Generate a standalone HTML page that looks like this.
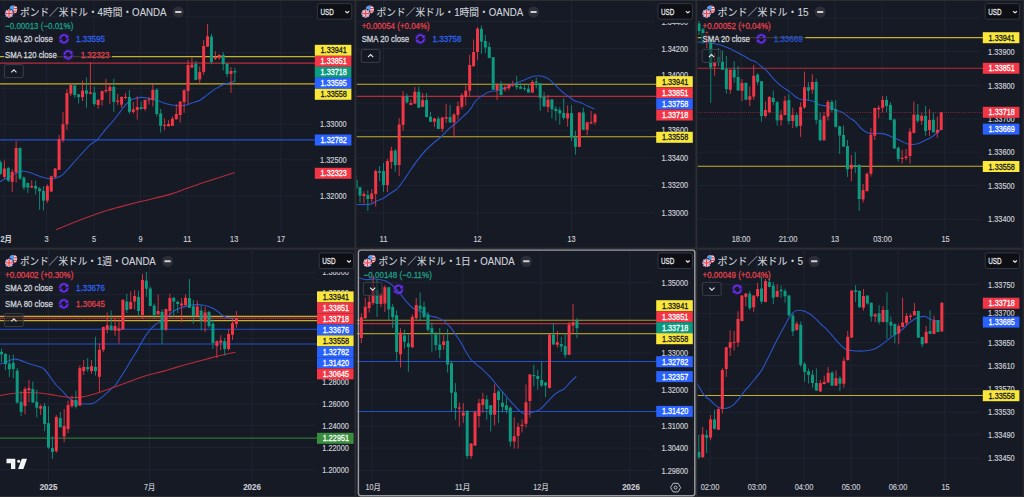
<!DOCTYPE html>
<html lang="ja"><head><meta charset="utf-8"><title>GBPUSD multi-chart</title>
<style>html,body{margin:0;padding:0;background:#161a25;overflow:hidden}svg{display:block}text{white-space:pre}</style></head>
<body>
<svg width="1024" height="497" viewBox="0 0 1024 497" font-family='"Liberation Sans","Noto Sans CJK JP",sans-serif'>
<rect x="0.00" y="0.00" width="1024.00" height="497.00" fill="#161a25" />
<g><clipPath id="cp1"><rect x="0" y="1" width="354.4" height="246.6"/></clipPath><g clip-path="url(#cp1)">
<line x1="4.20" y1="1.00" x2="4.20" y2="232.60" stroke="#212635" stroke-width="0.8" />
<line x1="46.60" y1="1.00" x2="46.60" y2="232.60" stroke="#212635" stroke-width="0.8" />
<line x1="94.00" y1="1.00" x2="94.00" y2="232.60" stroke="#212635" stroke-width="0.8" />
<line x1="140.60" y1="1.00" x2="140.60" y2="232.60" stroke="#212635" stroke-width="0.8" />
<line x1="187.40" y1="1.00" x2="187.40" y2="232.60" stroke="#212635" stroke-width="0.8" />
<line x1="234.20" y1="1.00" x2="234.20" y2="232.60" stroke="#212635" stroke-width="0.8" />
<line x1="281.00" y1="1.00" x2="281.00" y2="232.60" stroke="#212635" stroke-width="0.8" />
<line x1="0.00" y1="16.80" x2="312.80" y2="16.80" stroke="#212635" stroke-width="0.8" />
<line x1="0.00" y1="52.60" x2="312.80" y2="52.60" stroke="#212635" stroke-width="0.8" />
<line x1="0.00" y1="88.40" x2="312.80" y2="88.40" stroke="#212635" stroke-width="0.8" />
<line x1="0.00" y1="124.20" x2="312.80" y2="124.20" stroke="#212635" stroke-width="0.8" />
<line x1="0.00" y1="159.80" x2="312.80" y2="159.80" stroke="#212635" stroke-width="0.8" />
<line x1="0.00" y1="196.00" x2="312.80" y2="196.00" stroke="#212635" stroke-width="0.8" />
<line x1="0.00" y1="56.60" x2="315.80" y2="56.60" stroke="#c6b12d" stroke-width="1.1" />
<line x1="0.00" y1="63.10" x2="315.80" y2="63.10" stroke="#b52c3a" stroke-width="1.1" />
<line x1="0.00" y1="83.90" x2="315.80" y2="83.90" stroke="#c6b12d" stroke-width="1.1" />
<line x1="0.00" y1="139.90" x2="315.80" y2="139.90" stroke="#2450cc" stroke-width="1.1" />
<path d="M0.0 181.9C0.6 181.5 2.5 180.1 3.8 179.4C5.0 178.7 5.8 178.7 7.5 177.9C9.2 177.1 11.9 175.6 13.8 174.6C15.6 173.6 17.1 172.5 18.8 171.9C20.4 171.3 22.1 171.1 23.8 171.2C25.4 171.2 26.5 171.5 28.8 172.2C31.0 172.9 34.4 174.4 37.5 175.5C40.6 176.6 45.0 177.9 47.5 178.5C50.0 179.1 51.0 178.9 52.5 178.8C54.0 178.7 54.6 178.7 56.2 178.0C57.9 177.3 60.2 176.8 62.5 174.9C64.8 173.0 67.1 170.0 70.0 166.8C72.9 163.5 76.7 159.1 80.0 155.5C83.3 151.9 87.5 147.2 90.0 144.9C92.5 142.6 93.8 142.4 95.0 141.5C96.2 140.6 95.6 141.8 97.5 139.6C99.4 137.4 103.2 132.2 106.2 128.6C109.3 125.0 113.3 120.8 115.6 118.0C117.9 115.2 118.2 114.4 120.0 112.1C121.8 109.8 124.2 106.1 126.2 104.0C128.3 101.9 130.0 100.4 132.5 99.3C135.0 98.2 138.5 97.6 141.2 97.4C144.0 97.2 146.0 97.9 148.8 98.4C151.5 98.9 154.4 99.6 157.5 100.5C160.6 101.4 164.4 103.2 167.5 104.0C170.6 104.8 173.3 105.3 176.2 105.5C179.2 105.7 182.3 105.7 185.0 105.2C187.7 104.8 190.0 103.6 192.5 102.8C195.0 101.9 197.5 101.6 200.0 100.2C202.5 98.9 204.8 96.6 207.5 94.6C210.2 92.6 213.5 90.1 216.2 88.4C219.0 86.7 221.5 85.5 223.8 84.6C226.0 83.7 228.1 83.4 230.0 82.8C231.9 82.1 234.1 81.2 234.9 80.9" fill="none" stroke="#2a55c9" stroke-width="1.1" />
<path d="M56.0 229.8C59.2 228.4 68.5 224.5 75.0 221.9C81.5 219.3 88.8 216.6 95.0 214.4C101.2 212.2 108.3 210.2 112.5 208.9C116.7 207.7 115.1 208.2 120.0 206.9C124.9 205.6 133.6 203.3 141.9 201.2C150.2 199.2 162.4 196.6 170.0 194.4C177.6 192.2 181.2 190.3 187.5 188.1C193.8 185.9 199.6 183.8 207.5 181.2C215.4 178.7 230.2 174.0 234.8 172.5" fill="none" stroke="#b92b3a" stroke-width="1.1" />
<path d="M0.49 160.50V175.00" stroke="#0c9a81" stroke-width="0.85"/>
<rect x="-1.01" y="162.40" width="3.00" height="11.20" fill="#0c9a81" />
<path d="M4.39 160.50V178.75" stroke="#f23645" stroke-width="0.85"/>
<rect x="2.89" y="168.60" width="3.00" height="8.30" fill="#f23645" />
<path d="M8.30 166.75V181.90" stroke="#0c9a81" stroke-width="0.85"/>
<rect x="6.80" y="168.00" width="3.00" height="12.60" fill="#0c9a81" />
<path d="M12.21 169.25V191.90" stroke="#f23645" stroke-width="0.85"/>
<rect x="10.71" y="171.90" width="3.00" height="10.00" fill="#f23645" />
<path d="M16.11 141.10V182.50" stroke="#f23645" stroke-width="0.85"/>
<rect x="14.61" y="148.00" width="3.00" height="24.40" fill="#f23645" />
<path d="M20.02 147.50V180.00" stroke="#0c9a81" stroke-width="0.85"/>
<rect x="18.52" y="148.00" width="3.00" height="30.50" fill="#0c9a81" />
<path d="M23.93 176.25V190.00" stroke="#0c9a81" stroke-width="0.85"/>
<rect x="22.43" y="177.75" width="3.00" height="9.75" fill="#0c9a81" />
<path d="M27.83 182.50V193.10" stroke="#0c9a81" stroke-width="0.85"/>
<rect x="26.33" y="183.10" width="3.00" height="4.40" fill="#0c9a81" />
<path d="M31.74 180.25V188.10" stroke="#f23645" stroke-width="0.85"/>
<rect x="30.24" y="186.00" width="3.00" height="1.50" fill="#f23645" />
<path d="M35.65 180.60V194.40" stroke="#0c9a81" stroke-width="0.85"/>
<rect x="34.15" y="185.90" width="3.00" height="2.85" fill="#0c9a81" />
<path d="M39.56 187.25V209.75" stroke="#0c9a81" stroke-width="0.85"/>
<rect x="38.06" y="188.50" width="3.00" height="2.75" fill="#0c9a81" />
<path d="M43.46 186.25V210.25" stroke="#0c9a81" stroke-width="0.85"/>
<rect x="41.96" y="191.00" width="3.00" height="9.60" fill="#0c9a81" />
<path d="M47.37 184.40V202.75" stroke="#f23645" stroke-width="0.85"/>
<rect x="45.87" y="186.00" width="3.00" height="14.60" fill="#f23645" />
<path d="M51.28 175.75V191.90" stroke="#f23645" stroke-width="0.85"/>
<rect x="49.78" y="176.30" width="3.00" height="15.20" fill="#f23645" />
<path d="M55.18 168.00V178.00" stroke="#f23645" stroke-width="0.85"/>
<rect x="53.68" y="168.60" width="3.00" height="8.40" fill="#f23645" />
<path d="M59.09 134.90V170.00" stroke="#f23645" stroke-width="0.85"/>
<rect x="57.59" y="139.25" width="3.00" height="30.65" fill="#f23645" />
<path d="M63.00 111.90V142.40" stroke="#f23645" stroke-width="0.85"/>
<rect x="61.50" y="124.25" width="3.00" height="15.65" fill="#f23645" />
<path d="M66.91 89.00V129.90" stroke="#f23645" stroke-width="0.85"/>
<rect x="65.41" y="93.10" width="3.00" height="31.15" fill="#f23645" />
<path d="M70.81 84.80V96.00" stroke="#f23645" stroke-width="0.85"/>
<rect x="69.31" y="85.00" width="3.00" height="8.75" fill="#f23645" />
<path d="M74.72 85.00V98.10" stroke="#0c9a81" stroke-width="0.85"/>
<rect x="73.22" y="85.60" width="3.00" height="9.40" fill="#0c9a81" />
<path d="M78.63 94.00V103.50" stroke="#0c9a81" stroke-width="0.85"/>
<rect x="77.13" y="94.40" width="3.00" height="2.70" fill="#0c9a81" />
<path d="M82.53 80.60V101.00" stroke="#f23645" stroke-width="0.85"/>
<rect x="81.03" y="90.60" width="3.00" height="6.50" fill="#f23645" />
<path d="M86.44 77.50V107.90" stroke="#0c9a81" stroke-width="0.85"/>
<rect x="84.94" y="90.40" width="3.00" height="3.35" fill="#0c9a81" />
<path d="M90.35 61.90V94.40" stroke="#f23645" stroke-width="0.85"/>
<rect x="88.85" y="92.25" width="3.00" height="1.50" fill="#f23645" />
<path d="M94.25 86.50V106.00" stroke="#0c9a81" stroke-width="0.85"/>
<rect x="92.75" y="92.50" width="3.00" height="11.50" fill="#0c9a81" />
<path d="M98.16 99.40V108.75" stroke="#f23645" stroke-width="0.85"/>
<rect x="96.66" y="99.75" width="3.00" height="5.25" fill="#f23645" />
<path d="M102.07 90.60V105.60" stroke="#f23645" stroke-width="0.85"/>
<rect x="100.57" y="91.00" width="3.00" height="9.00" fill="#f23645" />
<path d="M105.97 78.75V93.10" stroke="#f23645" stroke-width="0.85"/>
<rect x="104.47" y="90.00" width="3.00" height="1.25" fill="#f23645" />
<path d="M109.88 83.10V103.75" stroke="#f23645" stroke-width="0.85"/>
<rect x="108.38" y="86.90" width="3.00" height="4.10" fill="#f23645" />
<path d="M113.79 78.75V111.90" stroke="#0c9a81" stroke-width="0.85"/>
<rect x="112.29" y="86.90" width="3.00" height="15.00" fill="#0c9a81" />
<path d="M117.70 94.00V105.00" stroke="#f23645" stroke-width="0.85"/>
<rect x="116.20" y="100.60" width="3.00" height="1.30" fill="#f23645" />
<path d="M121.60 96.30V107.80" stroke="#f23645" stroke-width="0.85"/>
<rect x="120.10" y="96.90" width="3.00" height="7.80" fill="#f23645" />
<path d="M125.51 93.00V99.00" stroke="#f23645" stroke-width="0.85"/>
<rect x="124.01" y="96.90" width="3.00" height="1.10" fill="#f23645" />
<path d="M129.42 90.00V113.75" stroke="#0c9a81" stroke-width="0.85"/>
<rect x="127.92" y="96.90" width="3.00" height="15.00" fill="#0c9a81" />
<path d="M133.32 102.10V113.75" stroke="#f23645" stroke-width="0.85"/>
<rect x="131.82" y="109.40" width="3.00" height="2.50" fill="#f23645" />
<path d="M137.23 96.25V119.60" stroke="#f23645" stroke-width="0.85"/>
<rect x="135.73" y="107.10" width="3.00" height="2.90" fill="#f23645" />
<path d="M141.14 101.50V109.60" stroke="#0c9a81" stroke-width="0.85"/>
<rect x="139.64" y="107.10" width="3.00" height="1.90" fill="#0c9a81" />
<path d="M145.04 99.60V110.90" stroke="#f23645" stroke-width="0.85"/>
<rect x="143.54" y="100.00" width="3.00" height="9.00" fill="#f23645" />
<path d="M148.95 97.10V104.60" stroke="#f23645" stroke-width="0.85"/>
<rect x="147.45" y="99.50" width="3.00" height="0.90" fill="#f23645" />
<path d="M152.86 83.75V106.50" stroke="#f23645" stroke-width="0.85"/>
<rect x="151.36" y="89.90" width="3.00" height="10.10" fill="#f23645" />
<path d="M156.77 88.40V116.50" stroke="#0c9a81" stroke-width="0.85"/>
<rect x="155.27" y="89.60" width="3.00" height="24.40" fill="#0c9a81" />
<path d="M160.67 109.00V132.50" stroke="#0c9a81" stroke-width="0.85"/>
<rect x="159.17" y="113.40" width="3.00" height="12.50" fill="#0c9a81" />
<path d="M164.58 118.40V130.25" stroke="#f23645" stroke-width="0.85"/>
<rect x="163.08" y="124.90" width="3.00" height="1.00" fill="#f23645" />
<path d="M168.49 120.25V126.50" stroke="#f23645" stroke-width="0.85"/>
<rect x="166.99" y="124.00" width="3.00" height="2.25" fill="#f23645" />
<path d="M172.39 116.50V126.00" stroke="#f23645" stroke-width="0.85"/>
<rect x="170.89" y="118.75" width="3.00" height="7.15" fill="#f23645" />
<path d="M176.30 104.25V119.60" stroke="#f23645" stroke-width="0.85"/>
<rect x="174.80" y="114.00" width="3.00" height="5.25" fill="#f23645" />
<path d="M180.21 101.20V122.50" stroke="#f23645" stroke-width="0.85"/>
<rect x="178.71" y="101.50" width="3.00" height="13.50" fill="#f23645" />
<path d="M184.12 89.25V112.75" stroke="#f23645" stroke-width="0.85"/>
<rect x="182.62" y="90.25" width="3.00" height="11.85" fill="#f23645" />
<path d="M188.02 60.00V104.00" stroke="#f23645" stroke-width="0.85"/>
<rect x="186.52" y="65.00" width="3.00" height="25.90" fill="#f23645" />
<path d="M191.93 57.50V68.10" stroke="#f23645" stroke-width="0.85"/>
<rect x="190.43" y="64.60" width="3.00" height="2.90" fill="#f23645" />
<path d="M195.84 60.60V80.20" stroke="#0c9a81" stroke-width="0.85"/>
<rect x="194.34" y="64.00" width="3.00" height="15.90" fill="#0c9a81" />
<path d="M199.74 66.25V83.75" stroke="#f23645" stroke-width="0.85"/>
<rect x="198.24" y="71.90" width="3.00" height="7.50" fill="#f23645" />
<path d="M203.65 40.00V74.75" stroke="#f23645" stroke-width="0.85"/>
<rect x="202.15" y="46.00" width="3.00" height="25.90" fill="#f23645" />
<path d="M207.56 24.00V46.90" stroke="#f23645" stroke-width="0.85"/>
<rect x="206.06" y="36.25" width="3.00" height="10.35" fill="#f23645" />
<path d="M211.46 33.75V64.40" stroke="#0c9a81" stroke-width="0.85"/>
<rect x="209.96" y="36.60" width="3.00" height="25.30" fill="#0c9a81" />
<path d="M215.37 51.25V60.00" stroke="#f23645" stroke-width="0.85"/>
<rect x="213.87" y="57.10" width="3.00" height="1.65" fill="#f23645" />
<path d="M219.28 54.00V59.75" stroke="#f23645" stroke-width="0.85"/>
<rect x="217.78" y="55.00" width="3.00" height="2.90" fill="#f23645" />
<path d="M223.19 52.10V70.60" stroke="#0c9a81" stroke-width="0.85"/>
<rect x="221.69" y="55.00" width="3.00" height="9.10" fill="#0c9a81" />
<path d="M227.09 63.40V77.20" stroke="#0c9a81" stroke-width="0.85"/>
<rect x="225.59" y="63.75" width="3.00" height="10.25" fill="#0c9a81" />
<path d="M231.00 67.25V93.00" stroke="#f23645" stroke-width="0.85"/>
<rect x="229.50" y="71.00" width="3.00" height="3.00" fill="#f23645" />
<path d="M234.91 68.10V82.10" stroke="#0c9a81" stroke-width="0.85"/>
<rect x="233.41" y="71.00" width="3.00" height="1.50" fill="#0c9a81" />
<text x="333.40" y="127.20" font-size="8.4" fill="#c9ccd3" stroke="#c9ccd3" stroke-width="0.18" text-anchor="middle" font-weight="normal" textLength="26.60" lengthAdjust="spacingAndGlyphs" >1.33000</text>
<text x="333.40" y="162.80" font-size="8.4" fill="#c9ccd3" stroke="#c9ccd3" stroke-width="0.18" text-anchor="middle" font-weight="normal" textLength="26.60" lengthAdjust="spacingAndGlyphs" >1.32500</text>
<text x="333.40" y="199.00" font-size="8.4" fill="#c9ccd3" stroke="#c9ccd3" stroke-width="0.18" text-anchor="middle" font-weight="normal" textLength="26.60" lengthAdjust="spacingAndGlyphs" >1.32000</text>
<rect x="313.80" y="1.00" width="40.60" height="21.90" fill="#161a25" />
<rect x="314.80" y="44.80" width="36.60" height="11.00" fill="#fae73c" />
<text x="333.70" y="53.30" font-size="8.4" fill="#131722" stroke="#131722" stroke-width="0.28" text-anchor="middle" font-weight="normal" textLength="26.20" lengthAdjust="spacingAndGlyphs" >1.33941</text>
<rect x="314.80" y="55.80" width="36.60" height="11.00" fill="#f23645" />
<text x="333.70" y="64.30" font-size="8.4" fill="#ffffff" stroke="#ffffff" stroke-width="0.28" text-anchor="middle" font-weight="normal" textLength="26.20" lengthAdjust="spacingAndGlyphs" >1.33851</text>
<rect x="314.80" y="66.80" width="36.60" height="11.00" fill="#0c9a81" />
<text x="333.70" y="75.30" font-size="8.4" fill="#ffffff" stroke="#ffffff" stroke-width="0.28" text-anchor="middle" font-weight="normal" textLength="26.20" lengthAdjust="spacingAndGlyphs" >1.33718</text>
<rect x="314.80" y="77.80" width="36.60" height="11.00" fill="#2962ff" />
<text x="333.70" y="86.30" font-size="8.4" fill="#ffffff" stroke="#ffffff" stroke-width="0.28" text-anchor="middle" font-weight="normal" textLength="26.20" lengthAdjust="spacingAndGlyphs" >1.33595</text>
<rect x="314.80" y="88.80" width="36.60" height="11.00" fill="#fae73c" />
<text x="333.70" y="97.30" font-size="8.4" fill="#131722" stroke="#131722" stroke-width="0.28" text-anchor="middle" font-weight="normal" textLength="26.20" lengthAdjust="spacingAndGlyphs" >1.33558</text>
<rect x="314.80" y="134.50" width="36.60" height="11.00" fill="#2962ff" />
<text x="333.70" y="143.00" font-size="8.4" fill="#ffffff" stroke="#ffffff" stroke-width="0.28" text-anchor="middle" font-weight="normal" textLength="26.20" lengthAdjust="spacingAndGlyphs" >1.32782</text>
<rect x="314.80" y="167.80" width="36.60" height="11.00" fill="#f23645" />
<text x="333.70" y="176.30" font-size="8.4" fill="#ffffff" stroke="#ffffff" stroke-width="0.28" text-anchor="middle" font-weight="normal" textLength="26.20" lengthAdjust="spacingAndGlyphs" >1.32323</text>
<rect x="317.40" y="3.60" width="34.4" height="15.6" rx="2" fill="#0d0f14" stroke="#383b46" stroke-width="0.9"/>
<text x="320.40" y="15.00" font-size="9.6" fill="#e8e9ed" stroke="#e8e9ed" stroke-width="0.28" text-anchor="start" font-weight="normal" textLength="13.40" lengthAdjust="spacingAndGlyphs" >USD</text>
<path d="M345.30 11.20L347.20 12.90L349.10 11.20" fill="none" stroke="#e2e4e9" stroke-width="1.2" stroke-linejoin="round"/>
<text x="0.50" y="241.70" font-size="8.4" fill="#c9ccd3" stroke="#c9ccd3" stroke-width="0.15" text-anchor="start" font-weight="bold" textLength="11.50" lengthAdjust="spacingAndGlyphs" >2月</text>
<text x="46.60" y="241.70" font-size="8.4" fill="#c9ccd3" stroke="#c9ccd3" stroke-width="0.15" text-anchor="middle" font-weight="normal" textLength="4.10" lengthAdjust="spacingAndGlyphs" >3</text>
<text x="94.00" y="241.70" font-size="8.4" fill="#c9ccd3" stroke="#c9ccd3" stroke-width="0.15" text-anchor="middle" font-weight="normal" textLength="4.10" lengthAdjust="spacingAndGlyphs" >5</text>
<text x="140.60" y="241.70" font-size="8.4" fill="#c9ccd3" stroke="#c9ccd3" stroke-width="0.15" text-anchor="middle" font-weight="normal" textLength="4.10" lengthAdjust="spacingAndGlyphs" >9</text>
<text x="187.40" y="241.70" font-size="8.4" fill="#c9ccd3" stroke="#c9ccd3" stroke-width="0.15" text-anchor="middle" font-weight="normal" textLength="8.20" lengthAdjust="spacingAndGlyphs" >11</text>
<text x="234.20" y="241.70" font-size="8.4" fill="#c9ccd3" stroke="#c9ccd3" stroke-width="0.15" text-anchor="middle" font-weight="normal" textLength="8.20" lengthAdjust="spacingAndGlyphs" >13</text>
<text x="281.00" y="241.70" font-size="8.4" fill="#c9ccd3" stroke="#c9ccd3" stroke-width="0.15" text-anchor="middle" font-weight="normal" textLength="8.20" lengthAdjust="spacingAndGlyphs" >17</text>
<rect x="4.00" y="50.50" width="108.00" height="9.50" fill="#161a25" fill-opacity="0.78"/>
<g><clipPath id="us9_13"><circle cx="13.40" cy="9.50" r="3.9"/></clipPath><g clip-path="url(#us9_13)"><rect x="9.40" y="5.50" width="8" height="8" fill="#f7f7f7"/><rect x="9.40" y="5.50" width="8" height="1.4" fill="#e8404a"/><rect x="9.40" y="7.90" width="8" height="1.3" fill="#e8404a"/><rect x="9.40" y="10.40" width="8" height="1.3" fill="#e8404a"/><rect x="9.40" y="12.50" width="8" height="1.3" fill="#e8404a"/><rect x="9.40" y="5.50" width="4.6" height="5" fill="#4aa0f2"/></g><circle cx="9.10" cy="13.60" r="4.9" fill="#161a25"/><clipPath id="uk9_13"><circle cx="9.10" cy="13.60" r="4.1"/></clipPath><g clip-path="url(#uk9_13)"><rect x="4.10" y="8.60" width="10" height="10" fill="#3b63c4"/><path d="M4.10 8.60L14.10 18.60M14.10 8.60L4.10 18.60" stroke="#f3e3e8" stroke-width="1.5"/><path d="M4.10 8.60L14.10 18.60M14.10 8.60L4.10 18.60" stroke="#ef5f68" stroke-width="0.5"/><path d="M9.10 8.60V18.60M4.10 13.60H14.10" stroke="#f6eaec" stroke-width="2.4"/><path d="M9.10 8.60V18.60M4.10 13.60H14.10" stroke="#ee4450" stroke-width="1.3"/></g></g>
<text x="20.00" y="16.00" font-size="10.2" fill="#cfd2d9" stroke="#cfd2d9" stroke-width="0.12" text-anchor="start" font-weight="normal" textLength="146.60" lengthAdjust="spacingAndGlyphs" >ポンド／米ドル・4時間・OANDA</text>
<circle cx="178.30" cy="12.00" r="5.6" fill="#2c2f39"/>
<rect x="175.10" y="10.95" width="6.40" height="2.10" fill="#d2d0cb" rx="0.7"/>
<text x="5.10" y="29.00" font-size="8.7" fill="#1d9e86" stroke="#1d9e86" stroke-width="0.28" text-anchor="start" font-weight="normal" textLength="68.20" lengthAdjust="spacingAndGlyphs" >−0.00013 (−0.01%)</text>
<text x="5.10" y="42.00" font-size="8.7" fill="#d0d3da" stroke="#d0d3da" stroke-width="0.28" text-anchor="start" font-weight="normal" textLength="47.70" lengthAdjust="spacingAndGlyphs" >SMA 20 close</text>
<g opacity="1.0" fill="none" stroke="#6d2ff5" stroke-width="1.6" stroke-linecap="round"><circle cx="64.00" cy="38.80" r="4.4" stroke="#3b1d8f" stroke-width="3.4" opacity="0.42"/><path d="M60.30 38.10A3.75 3.75 0 0 1 67.10 36.70"/><path d="M67.70 39.50A3.75 3.75 0 0 1 60.90 40.90"/><path d="M67.90 35.50V37.70H65.80Z" fill="#6d2ff5" stroke-width="0.5"/><path d="M60.10 42.10V39.90H62.20Z" fill="#6d2ff5" stroke-width="0.5"/></g>
<text x="76.10" y="42.00" font-size="8.7" fill="#2f62f0" stroke="#2f62f0" stroke-width="0.28" text-anchor="start" font-weight="normal" textLength="28.80" lengthAdjust="spacingAndGlyphs" opacity="1">1.33595</text>
<text x="5.10" y="58.00" font-size="8.7" fill="#d0d3da" stroke="#d0d3da" stroke-width="0.28" text-anchor="start" font-weight="normal" textLength="51.70" lengthAdjust="spacingAndGlyphs" >SMA 120 close</text>
<g opacity="1.0" fill="none" stroke="#6d2ff5" stroke-width="1.6" stroke-linecap="round"><circle cx="68.20" cy="54.80" r="4.4" stroke="#3b1d8f" stroke-width="3.4" opacity="0.42"/><path d="M64.50 54.10A3.75 3.75 0 0 1 71.30 52.70"/><path d="M71.90 55.50A3.75 3.75 0 0 1 65.10 56.90"/><path d="M72.10 51.50V53.70H70.00Z" fill="#6d2ff5" stroke-width="0.5"/><path d="M64.30 58.10V55.90H66.40Z" fill="#6d2ff5" stroke-width="0.5"/></g>
<text x="80.70" y="58.00" font-size="8.7" fill="#e0414c" stroke="#e0414c" stroke-width="0.28" text-anchor="start" font-weight="normal" textLength="28.80" lengthAdjust="spacingAndGlyphs" opacity="1">1.32323</text>
<rect x="4.60" y="64.60" width="18.6" height="13" rx="1.6" fill="#161a25" fill-opacity="0.55" stroke="#414349" stroke-width="0.9"/>
<path d="M11.30 72.40L13.90 69.80L16.50 72.40" fill="none" stroke="#e4e6ea" stroke-width="1.15"/>
</g></g>
<g><clipPath id="cp2"><rect x="356.4" y="1" width="339.0" height="246.6"/></clipPath><g clip-path="url(#cp2)">
<line x1="383.50" y1="1.00" x2="383.50" y2="232.60" stroke="#212635" stroke-width="0.8" />
<line x1="477.50" y1="1.00" x2="477.50" y2="232.60" stroke="#212635" stroke-width="0.8" />
<line x1="571.50" y1="1.00" x2="571.50" y2="232.60" stroke="#212635" stroke-width="0.8" />
<line x1="356.40" y1="21.30" x2="654.20" y2="21.30" stroke="#212635" stroke-width="0.8" />
<line x1="356.40" y1="48.60" x2="654.20" y2="48.60" stroke="#212635" stroke-width="0.8" />
<line x1="356.40" y1="75.90" x2="654.20" y2="75.90" stroke="#212635" stroke-width="0.8" />
<line x1="356.40" y1="103.20" x2="654.20" y2="103.20" stroke="#212635" stroke-width="0.8" />
<line x1="356.40" y1="130.50" x2="654.20" y2="130.50" stroke="#212635" stroke-width="0.8" />
<line x1="356.40" y1="158.00" x2="654.20" y2="158.00" stroke="#212635" stroke-width="0.8" />
<line x1="356.40" y1="185.40" x2="654.20" y2="185.40" stroke="#212635" stroke-width="0.8" />
<line x1="356.40" y1="212.80" x2="654.20" y2="212.80" stroke="#212635" stroke-width="0.8" />
<line x1="356.40" y1="84.30" x2="657.20" y2="84.30" stroke="#c6b12d" stroke-width="1.1" />
<line x1="356.40" y1="96.40" x2="657.20" y2="96.40" stroke="#b52c3a" stroke-width="1.1" />
<line x1="356.40" y1="136.80" x2="657.20" y2="136.80" stroke="#c6b12d" stroke-width="1.1" />
<path d="M356.0 204.5C357.2 204.5 360.9 204.7 363.5 204.6C366.1 204.5 369.5 204.6 371.6 204.0C373.7 203.4 374.1 202.2 376.0 201.2C377.9 200.3 380.6 199.8 382.9 198.5C385.2 197.2 387.6 195.2 389.8 193.8C391.9 192.3 394.3 191.1 396.0 189.8C397.7 188.4 398.1 187.7 399.8 185.6C401.4 183.5 403.9 179.9 406.0 176.9C408.1 173.9 410.2 170.5 412.2 167.5C414.3 164.5 416.2 161.7 418.5 158.8C420.8 155.8 423.5 152.6 426.0 150.0C428.5 147.4 431.0 145.2 433.5 143.0C436.0 140.8 438.5 139.3 441.0 137.0C443.5 134.7 446.0 131.6 448.5 129.2C451.0 126.9 453.5 125.2 456.0 123.0C458.5 120.8 461.2 118.3 463.5 116.1C465.8 113.9 467.7 112.5 469.8 109.9C471.8 107.3 474.1 102.7 476.0 100.5C477.9 98.3 479.7 97.5 481.0 96.5C482.3 95.5 482.5 95.5 483.8 94.8C485.0 94.0 486.7 92.7 488.8 92.0C490.8 91.3 493.5 91.4 496.2 90.8C499.0 90.1 501.9 89.1 505.0 87.9C508.1 86.7 511.7 84.9 515.0 83.5C518.3 82.1 522.1 80.9 525.0 79.8C527.9 78.6 530.4 77.3 532.5 76.6C534.6 75.9 535.8 75.8 537.5 75.8C539.2 75.7 540.6 75.7 542.5 76.2C544.4 76.8 546.7 77.7 548.8 79.1C550.8 80.5 552.9 82.8 555.0 84.8C557.1 86.7 559.2 89.2 561.2 91.0C563.3 92.8 565.2 94.1 567.5 95.8C569.8 97.4 572.9 99.9 575.0 101.0C577.1 102.1 577.9 101.4 580.0 102.2C582.1 103.1 585.1 104.9 587.5 106.0C589.9 107.1 593.3 108.6 594.5 109.1" fill="none" stroke="#2a55c9" stroke-width="1.1" />
<path d="M356.08 175.60V190.00" stroke="#0c9a81" stroke-width="0.85"/>
<rect x="354.58" y="180.00" width="3.00" height="8.10" fill="#0c9a81" />
<path d="M360.00 186.90V202.50" stroke="#0c9a81" stroke-width="0.85"/>
<rect x="358.50" y="187.25" width="3.00" height="8.35" fill="#0c9a81" />
<path d="M363.92 191.25V203.75" stroke="#f23645" stroke-width="0.85"/>
<rect x="362.42" y="194.00" width="3.00" height="2.00" fill="#f23645" />
<path d="M367.83 190.25V211.00" stroke="#0c9a81" stroke-width="0.85"/>
<rect x="366.33" y="195.00" width="3.00" height="4.00" fill="#0c9a81" />
<path d="M371.75 189.00V203.10" stroke="#f23645" stroke-width="0.85"/>
<rect x="370.25" y="193.40" width="3.00" height="5.60" fill="#f23645" />
<path d="M375.67 169.40V206.50" stroke="#f23645" stroke-width="0.85"/>
<rect x="374.17" y="171.00" width="3.00" height="23.00" fill="#f23645" />
<path d="M379.58 166.00V181.00" stroke="#0c9a81" stroke-width="0.85"/>
<rect x="378.08" y="171.25" width="3.00" height="1.50" fill="#0c9a81" />
<path d="M383.50 162.90V191.90" stroke="#0c9a81" stroke-width="0.85"/>
<rect x="382.00" y="171.00" width="3.00" height="14.00" fill="#0c9a81" />
<path d="M387.42 159.00V192.25" stroke="#f23645" stroke-width="0.85"/>
<rect x="385.92" y="161.00" width="3.00" height="24.00" fill="#f23645" />
<path d="M391.33 146.75V168.75" stroke="#f23645" stroke-width="0.85"/>
<rect x="389.83" y="150.60" width="3.00" height="11.30" fill="#f23645" />
<path d="M395.25 149.00V171.90" stroke="#0c9a81" stroke-width="0.85"/>
<rect x="393.75" y="150.60" width="3.00" height="14.65" fill="#0c9a81" />
<path d="M399.17 118.00V176.00" stroke="#f23645" stroke-width="0.85"/>
<rect x="397.67" y="124.50" width="3.00" height="40.50" fill="#f23645" />
<path d="M403.08 91.10V130.75" stroke="#f23645" stroke-width="0.85"/>
<rect x="401.58" y="96.50" width="3.00" height="28.40" fill="#f23645" />
<path d="M407.00 93.60V103.60" stroke="#0c9a81" stroke-width="0.85"/>
<rect x="405.50" y="96.10" width="3.00" height="6.30" fill="#0c9a81" />
<path d="M410.92 99.50V105.20" stroke="#f23645" stroke-width="0.85"/>
<rect x="409.42" y="103.00" width="3.00" height="1.90" fill="#f23645" />
<path d="M414.84 87.00V104.00" stroke="#f23645" stroke-width="0.85"/>
<rect x="413.34" y="91.75" width="3.00" height="11.85" fill="#f23645" />
<path d="M418.75 86.50V108.00" stroke="#0c9a81" stroke-width="0.85"/>
<rect x="417.25" y="91.75" width="3.00" height="16.00" fill="#0c9a81" />
<path d="M422.67 93.00V107.00" stroke="#f23645" stroke-width="0.85"/>
<rect x="421.17" y="100.10" width="3.00" height="6.65" fill="#f23645" />
<path d="M426.59 93.00V117.40" stroke="#0c9a81" stroke-width="0.85"/>
<rect x="425.09" y="100.10" width="3.00" height="16.90" fill="#0c9a81" />
<path d="M430.50 112.00V122.00" stroke="#0c9a81" stroke-width="0.85"/>
<rect x="429.00" y="116.75" width="3.00" height="5.00" fill="#0c9a81" />
<path d="M434.42 118.00V127.00" stroke="#f23645" stroke-width="0.85"/>
<rect x="432.92" y="118.40" width="3.00" height="3.35" fill="#f23645" />
<path d="M438.34 116.50V129.25" stroke="#0c9a81" stroke-width="0.85"/>
<rect x="436.84" y="118.60" width="3.00" height="10.30" fill="#0c9a81" />
<path d="M442.25 116.75V131.75" stroke="#f23645" stroke-width="0.85"/>
<rect x="440.75" y="117.60" width="3.00" height="11.30" fill="#f23645" />
<path d="M446.17 104.00V123.00" stroke="#f23645" stroke-width="0.85"/>
<rect x="444.67" y="117.10" width="3.00" height="1.50" fill="#f23645" />
<path d="M450.09 104.90V122.75" stroke="#0c9a81" stroke-width="0.85"/>
<rect x="448.59" y="117.10" width="3.00" height="5.30" fill="#0c9a81" />
<path d="M454.01 113.00V137.75" stroke="#f23645" stroke-width="0.85"/>
<rect x="452.51" y="114.50" width="3.00" height="7.90" fill="#f23645" />
<path d="M457.92 101.50V119.50" stroke="#f23645" stroke-width="0.85"/>
<rect x="456.42" y="106.10" width="3.00" height="8.80" fill="#f23645" />
<path d="M461.84 93.00V109.25" stroke="#f23645" stroke-width="0.85"/>
<rect x="460.34" y="95.10" width="3.00" height="11.65" fill="#f23645" />
<path d="M465.76 85.50V105.50" stroke="#f23645" stroke-width="0.85"/>
<rect x="464.26" y="90.75" width="3.00" height="6.00" fill="#f23645" />
<path d="M469.67 54.75V96.50" stroke="#f23645" stroke-width="0.85"/>
<rect x="468.17" y="65.00" width="3.00" height="25.75" fill="#f23645" />
<path d="M473.59 39.50V66.60" stroke="#f23645" stroke-width="0.85"/>
<rect x="472.09" y="52.00" width="3.00" height="14.25" fill="#f23645" />
<path d="M477.51 27.00V60.00" stroke="#f23645" stroke-width="0.85"/>
<rect x="476.01" y="28.75" width="3.00" height="23.25" fill="#f23645" />
<path d="M481.43 25.50V53.75" stroke="#0c9a81" stroke-width="0.85"/>
<rect x="479.93" y="28.75" width="3.00" height="12.85" fill="#0c9a81" />
<path d="M485.34 35.00V52.90" stroke="#0c9a81" stroke-width="0.85"/>
<rect x="483.84" y="41.00" width="3.00" height="6.50" fill="#0c9a81" />
<path d="M489.26 42.25V58.25" stroke="#0c9a81" stroke-width="0.85"/>
<rect x="487.76" y="47.00" width="3.00" height="10.90" fill="#0c9a81" />
<path d="M493.18 57.00V90.00" stroke="#0c9a81" stroke-width="0.85"/>
<rect x="491.68" y="57.25" width="3.00" height="32.50" fill="#0c9a81" />
<path d="M497.09 83.50V100.00" stroke="#f23645" stroke-width="0.85"/>
<rect x="495.59" y="84.50" width="3.00" height="5.50" fill="#f23645" />
<path d="M501.01 81.25V95.40" stroke="#0c9a81" stroke-width="0.85"/>
<rect x="499.51" y="84.50" width="3.00" height="10.50" fill="#0c9a81" />
<path d="M504.93 84.50V91.60" stroke="#f23645" stroke-width="0.85"/>
<rect x="503.43" y="87.25" width="3.00" height="2.15" fill="#f23645" />
<path d="M508.84 84.10V90.40" stroke="#f23645" stroke-width="0.85"/>
<rect x="507.34" y="84.75" width="3.00" height="3.50" fill="#f23645" />
<path d="M512.76 80.75V86.60" stroke="#f23645" stroke-width="0.85"/>
<rect x="511.26" y="84.75" width="3.00" height="1.00" fill="#f23645" />
<path d="M516.68 76.00V89.75" stroke="#0c9a81" stroke-width="0.85"/>
<rect x="515.18" y="85.40" width="3.00" height="1.85" fill="#0c9a81" />
<path d="M520.60 82.90V89.10" stroke="#0c9a81" stroke-width="0.85"/>
<rect x="519.10" y="86.60" width="3.00" height="2.15" fill="#0c9a81" />
<path d="M524.51 84.75V90.75" stroke="#0c9a81" stroke-width="0.85"/>
<rect x="523.01" y="88.25" width="3.00" height="0.85" fill="#0c9a81" />
<path d="M528.43 84.10V92.90" stroke="#0c9a81" stroke-width="0.85"/>
<rect x="526.93" y="88.75" width="3.00" height="3.75" fill="#0c9a81" />
<path d="M532.35 80.00V92.90" stroke="#f23645" stroke-width="0.85"/>
<rect x="530.85" y="82.00" width="3.00" height="10.50" fill="#f23645" />
<path d="M536.26 77.50V88.50" stroke="#0c9a81" stroke-width="0.85"/>
<rect x="534.76" y="81.60" width="3.00" height="1.30" fill="#0c9a81" />
<path d="M540.18 82.90V110.75" stroke="#0c9a81" stroke-width="0.85"/>
<rect x="538.68" y="83.25" width="3.00" height="14.65" fill="#0c9a81" />
<path d="M544.10 92.00V107.25" stroke="#0c9a81" stroke-width="0.85"/>
<rect x="542.60" y="97.00" width="3.00" height="9.25" fill="#0c9a81" />
<path d="M548.01 95.00V112.00" stroke="#f23645" stroke-width="0.85"/>
<rect x="546.51" y="99.75" width="3.00" height="7.25" fill="#f23645" />
<path d="M551.93 99.10V118.50" stroke="#0c9a81" stroke-width="0.85"/>
<rect x="550.43" y="99.50" width="3.00" height="9.60" fill="#0c9a81" />
<path d="M555.85 106.25V120.75" stroke="#0c9a81" stroke-width="0.85"/>
<rect x="554.35" y="108.75" width="3.00" height="2.25" fill="#0c9a81" />
<path d="M559.76 107.25V124.50" stroke="#0c9a81" stroke-width="0.85"/>
<rect x="558.26" y="110.00" width="3.00" height="3.50" fill="#0c9a81" />
<path d="M563.68 98.25V119.75" stroke="#0c9a81" stroke-width="0.85"/>
<rect x="562.18" y="112.90" width="3.00" height="5.00" fill="#0c9a81" />
<path d="M567.60 105.40V126.60" stroke="#f23645" stroke-width="0.85"/>
<rect x="566.10" y="113.25" width="3.00" height="5.25" fill="#f23645" />
<path d="M571.52 105.25V141.00" stroke="#0c9a81" stroke-width="0.85"/>
<rect x="570.02" y="113.10" width="3.00" height="24.40" fill="#0c9a81" />
<path d="M575.43 131.00V154.75" stroke="#0c9a81" stroke-width="0.85"/>
<rect x="573.93" y="137.50" width="3.00" height="9.40" fill="#0c9a81" />
<path d="M579.35 112.20V147.20" stroke="#f23645" stroke-width="0.85"/>
<rect x="577.85" y="112.50" width="3.00" height="34.40" fill="#f23645" />
<path d="M583.27 107.50V130.00" stroke="#0c9a81" stroke-width="0.85"/>
<rect x="581.77" y="112.50" width="3.00" height="17.25" fill="#0c9a81" />
<path d="M587.18 121.50V135.25" stroke="#f23645" stroke-width="0.85"/>
<rect x="585.68" y="122.50" width="3.00" height="7.25" fill="#f23645" />
<path d="M591.10 111.00V124.40" stroke="#f23645" stroke-width="0.85"/>
<rect x="589.60" y="122.10" width="3.00" height="1.30" fill="#f23645" />
<path d="M595.02 113.10V124.75" stroke="#f23645" stroke-width="0.85"/>
<rect x="593.52" y="114.40" width="3.00" height="7.85" fill="#f23645" />
<text x="674.80" y="24.60" font-size="8.4" fill="#c9ccd3" stroke="#c9ccd3" stroke-width="0.18" text-anchor="middle" font-weight="normal" textLength="26.60" lengthAdjust="spacingAndGlyphs" >1.34400</text>
<text x="674.80" y="51.60" font-size="8.4" fill="#c9ccd3" stroke="#c9ccd3" stroke-width="0.18" text-anchor="middle" font-weight="normal" textLength="26.60" lengthAdjust="spacingAndGlyphs" >1.34200</text>
<text x="674.80" y="78.40" font-size="8.4" fill="#c9ccd3" stroke="#c9ccd3" stroke-width="0.18" text-anchor="middle" font-weight="normal" textLength="26.60" lengthAdjust="spacingAndGlyphs" >1.34000</text>
<text x="674.80" y="133.30" font-size="8.4" fill="#c9ccd3" stroke="#c9ccd3" stroke-width="0.18" text-anchor="middle" font-weight="normal" textLength="26.60" lengthAdjust="spacingAndGlyphs" >1.33600</text>
<text x="674.80" y="161.00" font-size="8.4" fill="#c9ccd3" stroke="#c9ccd3" stroke-width="0.18" text-anchor="middle" font-weight="normal" textLength="26.60" lengthAdjust="spacingAndGlyphs" >1.33400</text>
<text x="674.80" y="188.40" font-size="8.4" fill="#c9ccd3" stroke="#c9ccd3" stroke-width="0.18" text-anchor="middle" font-weight="normal" textLength="26.60" lengthAdjust="spacingAndGlyphs" >1.33200</text>
<text x="674.80" y="215.80" font-size="8.4" fill="#c9ccd3" stroke="#c9ccd3" stroke-width="0.18" text-anchor="middle" font-weight="normal" textLength="26.60" lengthAdjust="spacingAndGlyphs" >1.33000</text>
<rect x="655.20" y="1.00" width="40.20" height="21.90" fill="#161a25" />
<rect x="656.20" y="76.20" width="36.60" height="11.00" fill="#fae73c" />
<text x="675.10" y="84.70" font-size="8.4" fill="#131722" stroke="#131722" stroke-width="0.28" text-anchor="middle" font-weight="normal" textLength="26.20" lengthAdjust="spacingAndGlyphs" >1.33941</text>
<rect x="656.20" y="87.30" width="36.60" height="11.00" fill="#f23645" />
<text x="675.10" y="95.80" font-size="8.4" fill="#ffffff" stroke="#ffffff" stroke-width="0.28" text-anchor="middle" font-weight="normal" textLength="26.20" lengthAdjust="spacingAndGlyphs" >1.33851</text>
<rect x="656.20" y="98.40" width="36.60" height="11.00" fill="#2962ff" />
<text x="675.10" y="106.90" font-size="8.4" fill="#ffffff" stroke="#ffffff" stroke-width="0.28" text-anchor="middle" font-weight="normal" textLength="26.20" lengthAdjust="spacingAndGlyphs" >1.33758</text>
<rect x="656.20" y="109.50" width="36.60" height="11.00" fill="#f23645" />
<text x="675.10" y="118.00" font-size="8.4" fill="#ffffff" stroke="#ffffff" stroke-width="0.28" text-anchor="middle" font-weight="normal" textLength="26.20" lengthAdjust="spacingAndGlyphs" >1.33718</text>
<rect x="656.20" y="131.80" width="36.60" height="11.00" fill="#fae73c" />
<text x="675.10" y="140.30" font-size="8.4" fill="#131722" stroke="#131722" stroke-width="0.28" text-anchor="middle" font-weight="normal" textLength="26.20" lengthAdjust="spacingAndGlyphs" >1.33558</text>
<rect x="658.00" y="3.60" width="34.4" height="15.6" rx="2" fill="#0d0f14" stroke="#383b46" stroke-width="0.9"/>
<text x="661.00" y="15.00" font-size="9.6" fill="#e8e9ed" stroke="#e8e9ed" stroke-width="0.28" text-anchor="start" font-weight="normal" textLength="13.40" lengthAdjust="spacingAndGlyphs" >USD</text>
<path d="M685.90 11.20L687.80 12.90L689.70 11.20" fill="none" stroke="#e2e4e9" stroke-width="1.2" stroke-linejoin="round"/>
<text x="383.50" y="241.70" font-size="8.4" fill="#c9ccd3" stroke="#c9ccd3" stroke-width="0.15" text-anchor="middle" font-weight="normal" textLength="8.20" lengthAdjust="spacingAndGlyphs" >11</text>
<text x="477.50" y="241.70" font-size="8.4" fill="#c9ccd3" stroke="#c9ccd3" stroke-width="0.15" text-anchor="middle" font-weight="normal" textLength="8.20" lengthAdjust="spacingAndGlyphs" >12</text>
<text x="571.50" y="241.70" font-size="8.4" fill="#c9ccd3" stroke="#c9ccd3" stroke-width="0.15" text-anchor="middle" font-weight="normal" textLength="8.20" lengthAdjust="spacingAndGlyphs" >13</text>
<g><clipPath id="us365_13"><circle cx="370.00" cy="9.50" r="3.9"/></clipPath><g clip-path="url(#us365_13)"><rect x="366.00" y="5.50" width="8" height="8" fill="#f7f7f7"/><rect x="366.00" y="5.50" width="8" height="1.4" fill="#e8404a"/><rect x="366.00" y="7.90" width="8" height="1.3" fill="#e8404a"/><rect x="366.00" y="10.40" width="8" height="1.3" fill="#e8404a"/><rect x="366.00" y="12.50" width="8" height="1.3" fill="#e8404a"/><rect x="366.00" y="5.50" width="4.6" height="5" fill="#4aa0f2"/></g><circle cx="365.70" cy="13.60" r="4.9" fill="#161a25"/><clipPath id="uk365_13"><circle cx="365.70" cy="13.60" r="4.1"/></clipPath><g clip-path="url(#uk365_13)"><rect x="360.70" y="8.60" width="10" height="10" fill="#3b63c4"/><path d="M360.70 8.60L370.70 18.60M370.70 8.60L360.70 18.60" stroke="#f3e3e8" stroke-width="1.5"/><path d="M360.70 8.60L370.70 18.60M370.70 8.60L360.70 18.60" stroke="#ef5f68" stroke-width="0.5"/><path d="M365.70 8.60V18.60M360.70 13.60H370.70" stroke="#f6eaec" stroke-width="2.4"/><path d="M365.70 8.60V18.60M360.70 13.60H370.70" stroke="#ee4450" stroke-width="1.3"/></g></g>
<text x="376.60" y="16.00" font-size="10.2" fill="#cfd2d9" stroke="#cfd2d9" stroke-width="0.12" text-anchor="start" font-weight="normal" textLength="146.60" lengthAdjust="spacingAndGlyphs" >ポンド／米ドル・1時間・OANDA</text>
<circle cx="533.60" cy="12.00" r="5.6" fill="#2c2f39"/>
<rect x="530.40" y="10.95" width="6.40" height="2.10" fill="#d2d0cb" rx="0.7"/>
<text x="361.70" y="29.00" font-size="8.7" fill="#e0414c" stroke="#e0414c" stroke-width="0.28" text-anchor="start" font-weight="normal" textLength="68.00" lengthAdjust="spacingAndGlyphs" >+0.00054 (+0.04%)</text>
<text x="361.70" y="42.00" font-size="8.7" fill="#d0d3da" stroke="#d0d3da" stroke-width="0.28" text-anchor="start" font-weight="normal" textLength="47.50" lengthAdjust="spacingAndGlyphs" >SMA 20 close</text>
<g opacity="1.0" fill="none" stroke="#6d2ff5" stroke-width="1.6" stroke-linecap="round"><circle cx="420.40" cy="38.80" r="4.4" stroke="#3b1d8f" stroke-width="3.4" opacity="0.42"/><path d="M416.70 38.10A3.75 3.75 0 0 1 423.50 36.70"/><path d="M424.10 39.50A3.75 3.75 0 0 1 417.30 40.90"/><path d="M424.30 35.50V37.70H422.20Z" fill="#6d2ff5" stroke-width="0.5"/><path d="M416.50 42.10V39.90H418.60Z" fill="#6d2ff5" stroke-width="0.5"/></g>
<text x="432.60" y="42.00" font-size="8.7" fill="#2f62f0" stroke="#2f62f0" stroke-width="0.28" text-anchor="start" font-weight="normal" textLength="28.80" lengthAdjust="spacingAndGlyphs" opacity="1">1.33758</text>
<rect x="361.30" y="49.40" width="18.6" height="13" rx="1.6" fill="#161a25" fill-opacity="0.55" stroke="#414349" stroke-width="0.9"/>
<path d="M368.00 57.20L370.60 54.60L373.20 57.20" fill="none" stroke="#e4e6ea" stroke-width="1.15"/>
</g></g>
<g><clipPath id="cp3"><rect x="697.4" y="1" width="325.0" height="246.6"/></clipPath><g clip-path="url(#cp3)">
<line x1="741.00" y1="1.00" x2="741.00" y2="232.60" stroke="#212635" stroke-width="0.8" />
<line x1="788.00" y1="1.00" x2="788.00" y2="232.60" stroke="#212635" stroke-width="0.8" />
<line x1="835.00" y1="1.00" x2="835.00" y2="232.60" stroke="#212635" stroke-width="0.8" />
<line x1="882.00" y1="1.00" x2="882.00" y2="232.60" stroke="#212635" stroke-width="0.8" />
<line x1="945.00" y1="1.00" x2="945.00" y2="232.60" stroke="#212635" stroke-width="0.8" />
<line x1="697.40" y1="18.00" x2="980.80" y2="18.00" stroke="#212635" stroke-width="0.8" />
<line x1="697.40" y1="51.60" x2="980.80" y2="51.60" stroke="#212635" stroke-width="0.8" />
<line x1="697.40" y1="85.50" x2="980.80" y2="85.50" stroke="#212635" stroke-width="0.8" />
<line x1="697.40" y1="118.90" x2="980.80" y2="118.90" stroke="#212635" stroke-width="0.8" />
<line x1="697.40" y1="152.20" x2="980.80" y2="152.20" stroke="#212635" stroke-width="0.8" />
<line x1="697.40" y1="185.60" x2="980.80" y2="185.60" stroke="#212635" stroke-width="0.8" />
<line x1="697.40" y1="219.30" x2="980.80" y2="219.30" stroke="#212635" stroke-width="0.8" />
<line x1="697.40" y1="37.60" x2="983.80" y2="37.60" stroke="#c6b12d" stroke-width="1.1" />
<line x1="697.40" y1="68.30" x2="983.80" y2="68.30" stroke="#b52c3a" stroke-width="1.1" />
<line x1="697.40" y1="166.20" x2="983.80" y2="166.20" stroke="#c6b12d" stroke-width="1.1" />
<path d="M697.0 41.9C699.1 42.0 705.3 42.1 709.5 42.8C713.7 43.4 717.8 44.2 722.0 45.6C726.2 47.0 730.8 49.2 734.5 51.0C738.2 52.8 741.8 54.8 744.5 56.2C747.2 57.8 748.9 59.1 750.8 60.0C752.6 60.9 753.9 60.8 755.8 61.9C757.6 63.0 760.1 65.3 762.0 66.9C763.9 68.5 764.9 69.1 767.0 71.2C769.1 73.4 772.0 77.2 774.5 79.8C777.0 82.3 779.5 84.6 782.0 86.6C784.5 88.6 787.2 89.9 789.5 91.6C791.8 93.3 793.9 95.7 795.8 97.0C797.6 98.3 798.9 99.0 800.8 99.5C802.6 100.0 804.9 99.7 807.0 100.0C809.1 100.3 811.1 100.4 813.2 101.2C815.4 102.0 817.6 104.2 820.0 105.0C822.4 105.8 825.0 105.4 827.5 106.2C830.0 107.0 832.5 108.7 835.0 109.8C837.5 110.8 840.0 111.1 842.5 112.5C845.0 113.9 847.9 116.6 850.0 118.1C852.1 119.6 853.1 119.8 855.0 121.5C856.9 123.2 859.4 126.8 861.2 128.5C863.1 130.2 864.5 131.2 866.0 132.0C867.5 132.8 868.1 133.2 870.0 133.4C871.9 133.6 875.0 133.2 877.5 133.3C880.0 133.4 882.5 133.4 885.0 134.1C887.5 134.8 890.0 136.2 892.5 137.2C895.0 138.3 897.5 139.3 900.0 140.4C902.5 141.5 905.4 143.4 907.5 144.1C909.6 144.8 910.6 144.6 912.5 144.5C914.4 144.4 916.7 143.9 918.8 143.2C920.8 142.6 922.9 141.4 925.0 140.4C927.1 139.4 929.4 138.4 931.2 137.2C933.1 136.1 934.8 134.7 936.2 133.5C937.7 132.3 939.4 130.6 940.0 130.0" fill="none" stroke="#2a55c9" stroke-width="1.1" />
<path d="M699.03 21.00V35.00" stroke="#0c9a81" stroke-width="0.85"/>
<rect x="697.53" y="23.50" width="3.00" height="7.50" fill="#0c9a81" />
<path d="M702.94 27.50V43.50" stroke="#0c9a81" stroke-width="0.85"/>
<rect x="701.44" y="29.40" width="3.00" height="13.70" fill="#0c9a81" />
<path d="M706.85 31.50V48.10" stroke="#f23645" stroke-width="0.85"/>
<rect x="705.35" y="32.50" width="3.00" height="9.40" fill="#f23645" />
<path d="M710.75 35.00V102.90" stroke="#0c9a81" stroke-width="0.85"/>
<rect x="709.25" y="36.25" width="3.00" height="31.25" fill="#0c9a81" />
<path d="M714.66 53.10V75.70" stroke="#f23645" stroke-width="0.85"/>
<rect x="713.16" y="62.50" width="3.00" height="3.75" fill="#f23645" />
<path d="M718.56 48.10V66.25" stroke="#0c9a81" stroke-width="0.85"/>
<rect x="717.06" y="56.90" width="3.00" height="5.00" fill="#0c9a81" />
<path d="M722.47 50.60V70.00" stroke="#0c9a81" stroke-width="0.85"/>
<rect x="720.97" y="61.90" width="3.00" height="7.85" fill="#0c9a81" />
<path d="M726.38 56.00V93.75" stroke="#0c9a81" stroke-width="0.85"/>
<rect x="724.88" y="68.90" width="3.00" height="20.20" fill="#0c9a81" />
<path d="M730.28 69.40V93.75" stroke="#f23645" stroke-width="0.85"/>
<rect x="728.78" y="69.75" width="3.00" height="20.00" fill="#f23645" />
<path d="M734.19 61.00V82.90" stroke="#0c9a81" stroke-width="0.85"/>
<rect x="732.69" y="69.75" width="3.00" height="7.75" fill="#0c9a81" />
<path d="M738.09 66.00V90.80" stroke="#0c9a81" stroke-width="0.85"/>
<rect x="736.59" y="77.00" width="3.00" height="13.40" fill="#0c9a81" />
<path d="M742.00 79.00V101.00" stroke="#f23645" stroke-width="0.85"/>
<rect x="740.50" y="82.90" width="3.00" height="7.85" fill="#f23645" />
<path d="M745.91 82.50V100.10" stroke="#0c9a81" stroke-width="0.85"/>
<rect x="744.41" y="82.90" width="3.00" height="16.85" fill="#0c9a81" />
<path d="M749.81 86.60V106.00" stroke="#f23645" stroke-width="0.85"/>
<rect x="748.31" y="96.25" width="3.00" height="3.50" fill="#f23645" />
<path d="M753.72 65.00V99.75" stroke="#f23645" stroke-width="0.85"/>
<rect x="752.22" y="75.75" width="3.00" height="20.85" fill="#f23645" />
<path d="M757.62 72.90V84.75" stroke="#0c9a81" stroke-width="0.85"/>
<rect x="756.12" y="74.75" width="3.00" height="7.25" fill="#0c9a81" />
<path d="M761.53 81.00V121.60" stroke="#0c9a81" stroke-width="0.85"/>
<rect x="760.03" y="81.25" width="3.00" height="34.75" fill="#0c9a81" />
<path d="M765.44 101.60V117.50" stroke="#f23645" stroke-width="0.85"/>
<rect x="763.94" y="110.00" width="3.00" height="6.00" fill="#f23645" />
<path d="M769.34 96.00V113.50" stroke="#f23645" stroke-width="0.85"/>
<rect x="767.84" y="97.00" width="3.00" height="15.00" fill="#f23645" />
<path d="M773.25 90.40V105.00" stroke="#0c9a81" stroke-width="0.85"/>
<rect x="771.75" y="97.90" width="3.00" height="4.10" fill="#0c9a81" />
<path d="M777.15 101.00V125.75" stroke="#0c9a81" stroke-width="0.85"/>
<rect x="775.65" y="102.25" width="3.00" height="18.15" fill="#0c9a81" />
<path d="M781.06 110.00V125.70" stroke="#f23645" stroke-width="0.85"/>
<rect x="779.56" y="114.75" width="3.00" height="5.45" fill="#f23645" />
<path d="M784.97 96.00V115.40" stroke="#f23645" stroke-width="0.85"/>
<rect x="783.47" y="100.80" width="3.00" height="14.20" fill="#f23645" />
<path d="M788.87 93.75V124.30" stroke="#0c9a81" stroke-width="0.85"/>
<rect x="787.37" y="100.00" width="3.00" height="21.00" fill="#0c9a81" />
<path d="M792.78 107.80V128.10" stroke="#f23645" stroke-width="0.85"/>
<rect x="791.28" y="115.00" width="3.00" height="6.00" fill="#f23645" />
<path d="M796.68 112.90V127.75" stroke="#0c9a81" stroke-width="0.85"/>
<rect x="795.18" y="115.00" width="3.00" height="11.40" fill="#0c9a81" />
<path d="M800.59 102.25V136.90" stroke="#f23645" stroke-width="0.85"/>
<rect x="799.09" y="107.00" width="3.00" height="18.80" fill="#f23645" />
<path d="M804.50 71.60V108.90" stroke="#f23645" stroke-width="0.85"/>
<rect x="803.00" y="87.25" width="3.00" height="20.15" fill="#f23645" />
<path d="M808.40 82.00V100.40" stroke="#0c9a81" stroke-width="0.85"/>
<rect x="806.90" y="87.25" width="3.00" height="3.50" fill="#0c9a81" />
<path d="M812.31 74.10V93.75" stroke="#f23645" stroke-width="0.85"/>
<rect x="810.81" y="82.00" width="3.00" height="7.75" fill="#f23645" />
<path d="M816.21 78.75V124.30" stroke="#0c9a81" stroke-width="0.85"/>
<rect x="814.71" y="82.00" width="3.00" height="37.90" fill="#0c9a81" />
<path d="M820.12 112.50V141.25" stroke="#0c9a81" stroke-width="0.85"/>
<rect x="818.62" y="119.75" width="3.00" height="20.50" fill="#0c9a81" />
<path d="M824.03 112.50V140.60" stroke="#f23645" stroke-width="0.85"/>
<rect x="822.53" y="116.00" width="3.00" height="24.25" fill="#f23645" />
<path d="M827.93 100.00V120.60" stroke="#f23645" stroke-width="0.85"/>
<rect x="826.43" y="101.90" width="3.00" height="14.60" fill="#f23645" />
<path d="M831.84 100.00V111.90" stroke="#0c9a81" stroke-width="0.85"/>
<rect x="830.34" y="101.90" width="3.00" height="8.10" fill="#0c9a81" />
<path d="M835.74 100.00V127.40" stroke="#0c9a81" stroke-width="0.85"/>
<rect x="834.24" y="109.00" width="3.00" height="17.90" fill="#0c9a81" />
<path d="M839.65 125.60V154.00" stroke="#0c9a81" stroke-width="0.85"/>
<rect x="838.15" y="126.50" width="3.00" height="9.10" fill="#0c9a81" />
<path d="M843.56 125.60V147.00" stroke="#0c9a81" stroke-width="0.85"/>
<rect x="842.06" y="135.00" width="3.00" height="11.50" fill="#0c9a81" />
<path d="M847.46 140.00V176.90" stroke="#0c9a81" stroke-width="0.85"/>
<rect x="845.96" y="146.00" width="3.00" height="23.40" fill="#0c9a81" />
<path d="M851.37 155.00V181.00" stroke="#f23645" stroke-width="0.85"/>
<rect x="849.87" y="164.75" width="3.00" height="4.00" fill="#f23645" />
<path d="M855.27 152.25V173.10" stroke="#0c9a81" stroke-width="0.85"/>
<rect x="853.77" y="165.00" width="3.00" height="1.50" fill="#0c9a81" />
<path d="M859.18 164.00V211.00" stroke="#0c9a81" stroke-width="0.85"/>
<rect x="857.68" y="165.00" width="3.00" height="34.00" fill="#0c9a81" />
<path d="M863.09 184.00V202.50" stroke="#f23645" stroke-width="0.85"/>
<rect x="861.59" y="190.00" width="3.00" height="9.40" fill="#f23645" />
<path d="M866.99 172.50V191.90" stroke="#f23645" stroke-width="0.85"/>
<rect x="865.49" y="173.75" width="3.00" height="17.25" fill="#f23645" />
<path d="M870.90 128.10V176.50" stroke="#f23645" stroke-width="0.85"/>
<rect x="869.40" y="134.75" width="3.00" height="39.00" fill="#f23645" />
<path d="M874.80 107.60V140.00" stroke="#f23645" stroke-width="0.85"/>
<rect x="873.30" y="108.00" width="3.00" height="27.70" fill="#f23645" />
<path d="M878.71 105.30V118.00" stroke="#f23645" stroke-width="0.85"/>
<rect x="877.21" y="107.80" width="3.00" height="1.60" fill="#f23645" />
<path d="M882.62 96.00V112.50" stroke="#f23645" stroke-width="0.85"/>
<rect x="881.12" y="99.90" width="3.00" height="7.90" fill="#f23645" />
<path d="M886.52 96.00V112.00" stroke="#0c9a81" stroke-width="0.85"/>
<rect x="885.02" y="100.00" width="3.00" height="6.00" fill="#0c9a81" />
<path d="M890.43 102.00V120.40" stroke="#0c9a81" stroke-width="0.85"/>
<rect x="888.93" y="104.90" width="3.00" height="15.00" fill="#0c9a81" />
<path d="M894.33 118.60V149.00" stroke="#0c9a81" stroke-width="0.85"/>
<rect x="892.83" y="119.50" width="3.00" height="29.00" fill="#0c9a81" />
<path d="M898.24 146.40V161.50" stroke="#0c9a81" stroke-width="0.85"/>
<rect x="896.74" y="147.70" width="3.00" height="11.20" fill="#0c9a81" />
<path d="M902.15 150.00V163.50" stroke="#f23645" stroke-width="0.85"/>
<rect x="900.65" y="157.75" width="3.00" height="1.15" fill="#f23645" />
<path d="M906.05 149.00V160.25" stroke="#f23645" stroke-width="0.85"/>
<rect x="904.55" y="156.50" width="3.00" height="1.60" fill="#f23645" />
<path d="M909.96 128.25V163.50" stroke="#f23645" stroke-width="0.85"/>
<rect x="908.46" y="131.60" width="3.00" height="24.40" fill="#f23645" />
<path d="M913.86 101.60V133.30" stroke="#f23645" stroke-width="0.85"/>
<rect x="912.36" y="114.75" width="3.00" height="18.15" fill="#f23645" />
<path d="M917.77 104.10V122.90" stroke="#0c9a81" stroke-width="0.85"/>
<rect x="916.27" y="114.50" width="3.00" height="6.25" fill="#0c9a81" />
<path d="M921.68 112.90V125.00" stroke="#f23645" stroke-width="0.85"/>
<rect x="920.18" y="115.75" width="3.00" height="5.00" fill="#f23645" />
<path d="M925.58 106.00V135.75" stroke="#0c9a81" stroke-width="0.85"/>
<rect x="924.08" y="115.75" width="3.00" height="15.25" fill="#0c9a81" />
<path d="M929.49 109.10V136.00" stroke="#f23645" stroke-width="0.85"/>
<rect x="927.99" y="120.00" width="3.00" height="10.00" fill="#f23645" />
<path d="M933.39 112.25V132.60" stroke="#0c9a81" stroke-width="0.85"/>
<rect x="931.89" y="119.75" width="3.00" height="12.50" fill="#0c9a81" />
<path d="M937.30 116.60V137.50" stroke="#f23645" stroke-width="0.85"/>
<rect x="935.80" y="129.75" width="3.00" height="3.15" fill="#f23645" />
<path d="M941.21 112.00V130.30" stroke="#f23645" stroke-width="0.85"/>
<rect x="939.71" y="112.25" width="3.00" height="17.75" fill="#f23645" />
<line x1="697.40" y1="112.50" x2="983.80" y2="112.50" stroke="#a82d3a" stroke-width="0.8" stroke-dasharray="0.9 1.3"/>
<text x="1001.40" y="54.60" font-size="8.4" fill="#c9ccd3" stroke="#c9ccd3" stroke-width="0.18" text-anchor="middle" font-weight="normal" textLength="26.60" lengthAdjust="spacingAndGlyphs" >1.33900</text>
<text x="1001.40" y="88.50" font-size="8.4" fill="#c9ccd3" stroke="#c9ccd3" stroke-width="0.18" text-anchor="middle" font-weight="normal" textLength="26.60" lengthAdjust="spacingAndGlyphs" >1.33800</text>
<text x="1001.40" y="121.90" font-size="8.4" fill="#c9ccd3" stroke="#c9ccd3" stroke-width="0.18" text-anchor="middle" font-weight="normal" textLength="26.60" lengthAdjust="spacingAndGlyphs" >1.33700</text>
<text x="1001.40" y="155.20" font-size="8.4" fill="#c9ccd3" stroke="#c9ccd3" stroke-width="0.18" text-anchor="middle" font-weight="normal" textLength="26.60" lengthAdjust="spacingAndGlyphs" >1.33600</text>
<text x="1001.40" y="188.60" font-size="8.4" fill="#c9ccd3" stroke="#c9ccd3" stroke-width="0.18" text-anchor="middle" font-weight="normal" textLength="26.60" lengthAdjust="spacingAndGlyphs" >1.33500</text>
<text x="1001.40" y="222.30" font-size="8.4" fill="#c9ccd3" stroke="#c9ccd3" stroke-width="0.18" text-anchor="middle" font-weight="normal" textLength="26.60" lengthAdjust="spacingAndGlyphs" >1.33400</text>
<rect x="981.80" y="1.00" width="40.60" height="21.90" fill="#161a25" />
<rect x="982.80" y="32.20" width="36.60" height="11.00" fill="#fae73c" />
<text x="1001.70" y="40.70" font-size="8.4" fill="#131722" stroke="#131722" stroke-width="0.28" text-anchor="middle" font-weight="normal" textLength="26.20" lengthAdjust="spacingAndGlyphs" >1.33941</text>
<rect x="982.80" y="62.80" width="36.60" height="11.00" fill="#f23645" />
<text x="1001.70" y="71.30" font-size="8.4" fill="#ffffff" stroke="#ffffff" stroke-width="0.28" text-anchor="middle" font-weight="normal" textLength="26.20" lengthAdjust="spacingAndGlyphs" >1.33851</text>
<rect x="982.80" y="106.80" width="36.60" height="11.00" fill="#f23645" />
<text x="1001.70" y="115.30" font-size="8.4" fill="#ffffff" stroke="#ffffff" stroke-width="0.28" text-anchor="middle" font-weight="normal" textLength="26.20" lengthAdjust="spacingAndGlyphs" >1.33718</text>
<rect x="982.80" y="123.60" width="36.60" height="11.00" fill="#2962ff" />
<text x="1001.70" y="132.10" font-size="8.4" fill="#ffffff" stroke="#ffffff" stroke-width="0.28" text-anchor="middle" font-weight="normal" textLength="26.20" lengthAdjust="spacingAndGlyphs" >1.33669</text>
<rect x="982.80" y="161.00" width="36.60" height="11.00" fill="#fae73c" />
<text x="1001.70" y="169.50" font-size="8.4" fill="#131722" stroke="#131722" stroke-width="0.28" text-anchor="middle" font-weight="normal" textLength="26.20" lengthAdjust="spacingAndGlyphs" >1.33558</text>
<rect x="985.20" y="3.60" width="34.4" height="15.6" rx="2" fill="#0d0f14" stroke="#383b46" stroke-width="0.9"/>
<text x="988.20" y="15.00" font-size="9.6" fill="#e8e9ed" stroke="#e8e9ed" stroke-width="0.28" text-anchor="start" font-weight="normal" textLength="13.40" lengthAdjust="spacingAndGlyphs" >USD</text>
<path d="M1013.10 11.20L1015.00 12.90L1016.90 11.20" fill="none" stroke="#e2e4e9" stroke-width="1.2" stroke-linejoin="round"/>
<text x="741.00" y="241.70" font-size="8.4" fill="#c9ccd3" stroke="#c9ccd3" stroke-width="0.15" text-anchor="middle" font-weight="normal" textLength="18.70" lengthAdjust="spacingAndGlyphs" >18:00</text>
<text x="788.00" y="241.70" font-size="8.4" fill="#c9ccd3" stroke="#c9ccd3" stroke-width="0.15" text-anchor="middle" font-weight="normal" textLength="18.70" lengthAdjust="spacingAndGlyphs" >21:00</text>
<text x="835.00" y="241.70" font-size="8.4" fill="#c9ccd3" stroke="#c9ccd3" stroke-width="0.15" text-anchor="middle" font-weight="normal" textLength="8.20" lengthAdjust="spacingAndGlyphs" >13</text>
<text x="882.50" y="241.70" font-size="8.4" fill="#c9ccd3" stroke="#c9ccd3" stroke-width="0.15" text-anchor="middle" font-weight="normal" textLength="18.70" lengthAdjust="spacingAndGlyphs" >03:00</text>
<text x="945.50" y="241.70" font-size="8.4" fill="#c9ccd3" stroke="#c9ccd3" stroke-width="0.15" text-anchor="middle" font-weight="normal" textLength="8.20" lengthAdjust="spacingAndGlyphs" >15</text>
<rect x="701.50" y="33.00" width="104.00" height="9.50" fill="#161a25" fill-opacity="0.78"/>
<g><clipPath id="us706_13"><circle cx="710.90" cy="9.50" r="3.9"/></clipPath><g clip-path="url(#us706_13)"><rect x="706.90" y="5.50" width="8" height="8" fill="#f7f7f7"/><rect x="706.90" y="5.50" width="8" height="1.4" fill="#e8404a"/><rect x="706.90" y="7.90" width="8" height="1.3" fill="#e8404a"/><rect x="706.90" y="10.40" width="8" height="1.3" fill="#e8404a"/><rect x="706.90" y="12.50" width="8" height="1.3" fill="#e8404a"/><rect x="706.90" y="5.50" width="4.6" height="5" fill="#4aa0f2"/></g><circle cx="706.60" cy="13.60" r="4.9" fill="#161a25"/><clipPath id="uk706_13"><circle cx="706.60" cy="13.60" r="4.1"/></clipPath><g clip-path="url(#uk706_13)"><rect x="701.60" y="8.60" width="10" height="10" fill="#3b63c4"/><path d="M701.60 8.60L711.60 18.60M711.60 8.60L701.60 18.60" stroke="#f3e3e8" stroke-width="1.5"/><path d="M701.60 8.60L711.60 18.60M711.60 8.60L701.60 18.60" stroke="#ef5f68" stroke-width="0.5"/><path d="M706.60 8.60V18.60M701.60 13.60H711.60" stroke="#f6eaec" stroke-width="2.4"/><path d="M706.60 8.60V18.60M701.60 13.60H711.60" stroke="#ee4450" stroke-width="1.3"/></g></g>
<text x="717.50" y="16.00" font-size="10.2" fill="#cfd2d9" stroke="#cfd2d9" stroke-width="0.12" text-anchor="start" font-weight="normal" textLength="91.00" lengthAdjust="spacingAndGlyphs" >ポンド／米ドル・15</text>
<circle cx="820.20" cy="12.00" r="5.6" fill="#2c2f39"/>
<rect x="817.00" y="10.95" width="6.40" height="2.10" fill="#d2d0cb" rx="0.7"/>
<text x="702.60" y="29.00" font-size="8.7" fill="#e0414c" stroke="#e0414c" stroke-width="0.28" text-anchor="start" font-weight="normal" textLength="68.00" lengthAdjust="spacingAndGlyphs" >+0.00052 (+0.04%)</text>
<text x="702.60" y="42.00" font-size="8.7" fill="#d0d3da" stroke="#d0d3da" stroke-width="0.28" text-anchor="start" font-weight="normal" textLength="47.20" lengthAdjust="spacingAndGlyphs" >SMA 20 close</text>
<g opacity="1.0" fill="none" stroke="#6d2ff5" stroke-width="1.6" stroke-linecap="round"><circle cx="761.20" cy="38.80" r="4.4" stroke="#3b1d8f" stroke-width="3.4" opacity="0.42"/><path d="M757.50 38.10A3.75 3.75 0 0 1 764.30 36.70"/><path d="M764.90 39.50A3.75 3.75 0 0 1 758.10 40.90"/><path d="M765.10 35.50V37.70H763.00Z" fill="#6d2ff5" stroke-width="0.5"/><path d="M757.30 42.10V39.90H759.40Z" fill="#6d2ff5" stroke-width="0.5"/></g>
<text x="773.80" y="42.00" font-size="8.7" fill="#2f62f0" stroke="#2f62f0" stroke-width="0.28" text-anchor="start" font-weight="normal" textLength="28.80" lengthAdjust="spacingAndGlyphs" opacity="0.8">1.33669</text>
<rect x="702.20" y="49.40" width="18.6" height="13" rx="1.6" fill="#161a25" fill-opacity="0.55" stroke="#414349" stroke-width="0.9"/>
<path d="M708.90 57.20L711.50 54.60L714.10 57.20" fill="none" stroke="#e4e6ea" stroke-width="1.15"/>
</g></g>
<g><clipPath id="cp4"><rect x="0" y="249.8" width="354.4" height="247.2"/></clipPath><g clip-path="url(#cp4)">
<line x1="48.50" y1="249.80" x2="48.50" y2="482.00" stroke="#212635" stroke-width="0.8" />
<line x1="149.50" y1="249.80" x2="149.50" y2="482.00" stroke="#212635" stroke-width="0.8" />
<line x1="252.00" y1="249.80" x2="252.00" y2="482.00" stroke="#212635" stroke-width="0.8" />
<line x1="0.00" y1="272.80" x2="315.00" y2="272.80" stroke="#212635" stroke-width="0.8" />
<line x1="0.00" y1="294.70" x2="315.00" y2="294.70" stroke="#212635" stroke-width="0.8" />
<line x1="0.00" y1="338.40" x2="315.00" y2="338.40" stroke="#212635" stroke-width="0.8" />
<line x1="0.00" y1="360.30" x2="315.00" y2="360.30" stroke="#212635" stroke-width="0.8" />
<line x1="0.00" y1="382.20" x2="315.00" y2="382.20" stroke="#212635" stroke-width="0.8" />
<line x1="0.00" y1="404.00" x2="315.00" y2="404.00" stroke="#212635" stroke-width="0.8" />
<line x1="0.00" y1="425.60" x2="315.00" y2="425.60" stroke="#212635" stroke-width="0.8" />
<line x1="0.00" y1="447.60" x2="315.00" y2="447.60" stroke="#212635" stroke-width="0.8" />
<line x1="0.00" y1="469.60" x2="315.00" y2="469.60" stroke="#212635" stroke-width="0.8" />
<line x1="0.00" y1="316.40" x2="318.00" y2="316.40" stroke="#c6b12d" stroke-width="1.1" />
<line x1="0.00" y1="318.00" x2="318.00" y2="318.00" stroke="#b52c3a" stroke-width="1.0" />
<line x1="0.00" y1="320.60" x2="318.00" y2="320.60" stroke="#c6b12d" stroke-width="1.1" />
<line x1="0.00" y1="329.30" x2="318.00" y2="329.30" stroke="#2450cc" stroke-width="1.1" />
<line x1="0.00" y1="344.00" x2="318.00" y2="344.00" stroke="#2450cc" stroke-width="1.1" />
<line x1="0.00" y1="438.10" x2="318.00" y2="438.10" stroke="#2a7434" stroke-width="1.1" />
<path d="M0.0 364.0C1.0 363.6 4.2 362.6 6.2 361.9C8.3 361.1 10.6 359.9 12.5 359.5C14.4 359.1 15.4 358.9 17.5 359.4C19.6 359.9 22.5 361.4 25.0 362.2C27.5 363.1 30.0 364.0 32.5 364.8C35.0 365.5 37.9 366.0 40.0 366.9C42.1 367.8 42.9 367.8 45.0 370.0C47.1 372.2 50.6 377.5 52.5 380.0C54.4 382.5 54.6 383.1 56.2 385.0C57.9 386.9 60.6 389.3 62.5 391.2C64.4 393.2 65.8 395.3 67.5 396.9C69.2 398.5 70.8 399.5 72.5 400.6C74.2 401.7 75.4 402.7 77.5 403.3C79.6 403.9 82.5 403.9 85.0 404.0C87.5 404.1 90.4 404.2 92.5 403.6C94.6 403.0 95.6 401.9 97.5 400.6C99.4 399.3 101.7 397.4 103.8 395.6C105.8 393.8 108.0 391.8 110.0 390.0C112.0 388.2 114.1 386.7 115.6 385.0C117.1 383.3 117.2 382.4 118.8 380.0C120.3 377.6 122.9 373.9 125.0 370.5C127.1 367.1 129.2 363.3 131.2 359.9C133.3 356.5 135.8 352.7 137.5 349.9C139.2 347.1 139.8 345.5 141.2 343.0C142.7 340.5 144.6 337.3 146.2 334.9C147.9 332.5 149.6 330.4 151.2 328.6C152.9 326.8 154.6 325.2 156.2 324.0C157.9 322.8 159.4 322.7 161.2 321.5C163.1 320.3 165.6 318.5 167.5 316.9C169.4 315.3 170.4 313.4 172.5 311.9C174.6 310.4 177.3 309.2 180.0 308.1C182.7 307.1 186.0 306.2 188.8 305.6C191.5 305.0 193.8 304.7 196.2 304.6C198.8 304.5 201.2 304.8 203.8 305.2C206.2 305.7 209.0 306.5 211.2 307.5C213.5 308.5 215.4 309.8 217.5 311.2C219.6 312.7 221.7 315.1 223.8 316.2C225.8 317.4 228.1 317.7 230.0 318.1C231.9 318.5 234.2 318.4 235.0 318.5" fill="none" stroke="#2a55c9" stroke-width="1.1" />
<path d="M0.0 395.6C2.1 395.2 8.3 394.0 12.5 393.5C16.7 393.0 20.8 392.6 25.0 392.5C29.2 392.4 33.3 392.4 37.5 392.8C41.7 393.1 45.8 393.8 50.0 394.4C54.2 395.0 58.8 396.0 62.5 396.5C66.2 397.0 69.2 397.4 72.5 397.5C75.8 397.6 78.8 397.5 82.5 396.9C86.2 396.3 91.0 394.9 95.0 393.8C99.0 392.6 102.1 391.5 106.2 390.0C110.4 388.5 115.4 386.7 120.0 385.0C124.6 383.3 129.2 381.6 133.8 380.0C138.3 378.4 142.5 376.7 147.5 375.2C152.5 373.8 159.0 372.4 163.8 371.1C168.5 369.8 172.2 368.6 176.2 367.4C180.3 366.2 184.8 364.9 188.0 364.0C191.2 363.1 191.9 363.0 195.6 362.0C199.3 361.0 205.5 359.3 210.0 358.1C214.5 356.9 218.2 356.0 222.5 355.0C226.8 354.0 233.4 352.7 235.6 352.2" fill="none" stroke="#b92b3a" stroke-width="1.1" />
<path d="M1.52 348.50V362.25" stroke="#0c9a81" stroke-width="0.85"/>
<rect x="0.02" y="351.90" width="3.00" height="2.50" fill="#0c9a81" />
<path d="M5.44 353.10V370.00" stroke="#0c9a81" stroke-width="0.85"/>
<rect x="3.94" y="354.00" width="3.00" height="10.00" fill="#0c9a81" />
<path d="M9.35 355.00V376.90" stroke="#0c9a81" stroke-width="0.85"/>
<rect x="7.85" y="363.50" width="3.00" height="5.90" fill="#0c9a81" />
<path d="M13.27 354.40V378.10" stroke="#0c9a81" stroke-width="0.85"/>
<rect x="11.77" y="362.75" width="3.00" height="6.25" fill="#0c9a81" />
<path d="M17.18 368.10V403.75" stroke="#0c9a81" stroke-width="0.85"/>
<rect x="15.68" y="370.60" width="3.00" height="31.90" fill="#0c9a81" />
<path d="M21.09 391.25V416.00" stroke="#0c9a81" stroke-width="0.85"/>
<rect x="19.59" y="401.90" width="3.00" height="10.00" fill="#0c9a81" />
<path d="M25.01 386.90V414.40" stroke="#f23645" stroke-width="0.85"/>
<rect x="23.51" y="389.00" width="3.00" height="17.00" fill="#f23645" />
<path d="M28.93 380.00V401.90" stroke="#f23645" stroke-width="0.85"/>
<rect x="27.43" y="388.10" width="3.00" height="2.15" fill="#f23645" />
<path d="M32.84 381.50V402.90" stroke="#0c9a81" stroke-width="0.85"/>
<rect x="31.34" y="389.00" width="3.00" height="13.50" fill="#0c9a81" />
<path d="M36.75 389.75V417.50" stroke="#0c9a81" stroke-width="0.85"/>
<rect x="35.25" y="401.90" width="3.00" height="5.85" fill="#0c9a81" />
<path d="M40.67 404.40V415.00" stroke="#f23645" stroke-width="0.85"/>
<rect x="39.17" y="406.25" width="3.00" height="2.50" fill="#f23645" />
<path d="M44.59 403.10V431.00" stroke="#0c9a81" stroke-width="0.85"/>
<rect x="43.09" y="406.00" width="3.00" height="18.00" fill="#0c9a81" />
<path d="M48.50 406.25V448.75" stroke="#0c9a81" stroke-width="0.85"/>
<rect x="47.00" y="423.10" width="3.00" height="24.40" fill="#0c9a81" />
<path d="M52.41 436.25V459.00" stroke="#0c9a81" stroke-width="0.85"/>
<rect x="50.91" y="448.10" width="3.00" height="3.80" fill="#0c9a81" />
<path d="M56.33 415.00V452.75" stroke="#f23645" stroke-width="0.85"/>
<rect x="54.83" y="416.90" width="3.00" height="34.35" fill="#f23645" />
<path d="M60.25 411.90V427.60" stroke="#0c9a81" stroke-width="0.85"/>
<rect x="58.75" y="418.10" width="3.00" height="9.15" fill="#0c9a81" />
<path d="M64.16 409.00V442.25" stroke="#f23645" stroke-width="0.85"/>
<rect x="62.66" y="426.00" width="3.00" height="10.40" fill="#f23645" />
<path d="M68.08 400.60V433.10" stroke="#f23645" stroke-width="0.85"/>
<rect x="66.58" y="405.00" width="3.00" height="24.00" fill="#f23645" />
<path d="M71.99 395.60V407.75" stroke="#f23645" stroke-width="0.85"/>
<rect x="70.49" y="400.00" width="3.00" height="6.00" fill="#f23645" />
<path d="M75.91 390.60V408.50" stroke="#0c9a81" stroke-width="0.85"/>
<rect x="74.41" y="400.00" width="3.00" height="6.50" fill="#0c9a81" />
<path d="M79.82 365.25V406.00" stroke="#f23645" stroke-width="0.85"/>
<rect x="78.32" y="368.10" width="3.00" height="37.50" fill="#f23645" />
<path d="M83.73 360.10V374.90" stroke="#f23645" stroke-width="0.85"/>
<rect x="82.23" y="367.00" width="3.00" height="4.10" fill="#f23645" />
<path d="M87.65 358.20V371.80" stroke="#0c9a81" stroke-width="0.85"/>
<rect x="86.15" y="367.00" width="3.00" height="2.25" fill="#0c9a81" />
<path d="M91.56 360.10V373.80" stroke="#f23645" stroke-width="0.85"/>
<rect x="90.06" y="366.20" width="3.00" height="4.90" fill="#f23645" />
<path d="M95.48 336.80V375.70" stroke="#0c9a81" stroke-width="0.85"/>
<rect x="93.98" y="367.00" width="3.00" height="4.10" fill="#0c9a81" />
<path d="M99.40 343.30V391.90" stroke="#f23645" stroke-width="0.85"/>
<rect x="97.90" y="349.80" width="3.00" height="27.00" fill="#f23645" />
<path d="M103.31 326.50V352.20" stroke="#f23645" stroke-width="0.85"/>
<rect x="101.81" y="327.00" width="3.00" height="22.90" fill="#f23645" />
<path d="M107.22 312.50V333.25" stroke="#f23645" stroke-width="0.85"/>
<rect x="105.72" y="325.10" width="3.00" height="4.50" fill="#f23645" />
<path d="M111.14 310.60V330.60" stroke="#0c9a81" stroke-width="0.85"/>
<rect x="109.64" y="325.70" width="3.00" height="4.50" fill="#0c9a81" />
<path d="M115.06 315.60V335.75" stroke="#f23645" stroke-width="0.85"/>
<rect x="113.56" y="326.00" width="3.00" height="4.60" fill="#f23645" />
<path d="M118.97 319.40V343.60" stroke="#f23645" stroke-width="0.85"/>
<rect x="117.47" y="328.40" width="3.00" height="2.40" fill="#f23645" />
<path d="M122.89 299.40V329.80" stroke="#f23645" stroke-width="0.85"/>
<rect x="121.39" y="299.75" width="3.00" height="29.65" fill="#f23645" />
<path d="M126.80 293.75V313.10" stroke="#0c9a81" stroke-width="0.85"/>
<rect x="125.30" y="301.50" width="3.00" height="8.50" fill="#0c9a81" />
<path d="M130.72 291.25V309.40" stroke="#f23645" stroke-width="0.85"/>
<rect x="129.22" y="301.90" width="3.00" height="7.10" fill="#f23645" />
<path d="M134.63 290.00V309.40" stroke="#f23645" stroke-width="0.85"/>
<rect x="133.13" y="296.00" width="3.00" height="5.50" fill="#f23645" />
<path d="M138.55 290.60V316.90" stroke="#0c9a81" stroke-width="0.85"/>
<rect x="137.05" y="296.90" width="3.00" height="14.10" fill="#0c9a81" />
<path d="M142.46 274.00V318.50" stroke="#f23645" stroke-width="0.85"/>
<rect x="140.96" y="280.00" width="3.00" height="35.00" fill="#f23645" />
<path d="M146.38 271.90V296.90" stroke="#0c9a81" stroke-width="0.85"/>
<rect x="144.88" y="280.60" width="3.00" height="8.15" fill="#0c9a81" />
<path d="M150.29 286.50V306.40" stroke="#0c9a81" stroke-width="0.85"/>
<rect x="148.79" y="288.50" width="3.00" height="17.50" fill="#0c9a81" />
<path d="M154.20 303.50V318.50" stroke="#0c9a81" stroke-width="0.85"/>
<rect x="152.70" y="305.60" width="3.00" height="9.65" fill="#0c9a81" />
<path d="M158.12 294.40V314.80" stroke="#f23645" stroke-width="0.85"/>
<rect x="156.62" y="311.00" width="3.00" height="3.40" fill="#f23645" />
<path d="M162.03 309.40V343.75" stroke="#0c9a81" stroke-width="0.85"/>
<rect x="160.53" y="311.90" width="3.00" height="17.85" fill="#0c9a81" />
<path d="M165.95 308.60V331.25" stroke="#f23645" stroke-width="0.85"/>
<rect x="164.45" y="309.00" width="3.00" height="20.50" fill="#f23645" />
<path d="M169.87 293.75V315.00" stroke="#f23645" stroke-width="0.85"/>
<rect x="168.37" y="298.10" width="3.00" height="12.90" fill="#f23645" />
<path d="M173.78 296.90V316.90" stroke="#0c9a81" stroke-width="0.85"/>
<rect x="172.28" y="297.75" width="3.00" height="3.75" fill="#0c9a81" />
<path d="M177.69 300.60V313.10" stroke="#0c9a81" stroke-width="0.85"/>
<rect x="176.19" y="301.90" width="3.00" height="2.10" fill="#0c9a81" />
<path d="M181.61 298.10V322.50" stroke="#f23645" stroke-width="0.85"/>
<rect x="180.11" y="303.50" width="3.00" height="2.10" fill="#f23645" />
<path d="M185.53 294.40V305.60" stroke="#f23645" stroke-width="0.85"/>
<rect x="184.03" y="297.75" width="3.00" height="7.50" fill="#f23645" />
<path d="M189.44 279.00V308.10" stroke="#0c9a81" stroke-width="0.85"/>
<rect x="187.94" y="298.10" width="3.00" height="9.65" fill="#0c9a81" />
<path d="M193.35 300.00V323.75" stroke="#0c9a81" stroke-width="0.85"/>
<rect x="191.85" y="306.25" width="3.00" height="9.75" fill="#0c9a81" />
<path d="M197.27 300.60V316.40" stroke="#f23645" stroke-width="0.85"/>
<rect x="195.77" y="306.50" width="3.00" height="9.50" fill="#f23645" />
<path d="M201.19 305.60V330.60" stroke="#0c9a81" stroke-width="0.85"/>
<rect x="199.69" y="310.60" width="3.00" height="9.70" fill="#0c9a81" />
<path d="M205.10 307.00V332.25" stroke="#f23645" stroke-width="0.85"/>
<rect x="203.60" y="312.50" width="3.00" height="9.40" fill="#f23645" />
<path d="M209.02 311.00V327.80" stroke="#0c9a81" stroke-width="0.85"/>
<rect x="207.52" y="311.90" width="3.00" height="14.10" fill="#0c9a81" />
<path d="M212.93 319.60V349.00" stroke="#0c9a81" stroke-width="0.85"/>
<rect x="211.43" y="323.75" width="3.00" height="19.35" fill="#0c9a81" />
<path d="M216.84 340.30V358.10" stroke="#f23645" stroke-width="0.85"/>
<rect x="215.34" y="341.25" width="3.00" height="4.75" fill="#f23645" />
<path d="M220.76 335.25V350.25" stroke="#f23645" stroke-width="0.85"/>
<rect x="219.26" y="340.60" width="3.00" height="2.15" fill="#f23645" />
<path d="M224.68 337.75V355.60" stroke="#0c9a81" stroke-width="0.85"/>
<rect x="223.18" y="341.00" width="3.00" height="8.00" fill="#0c9a81" />
<path d="M228.59 329.40V350.60" stroke="#f23645" stroke-width="0.85"/>
<rect x="227.09" y="334.00" width="3.00" height="15.00" fill="#f23645" />
<path d="M232.50 318.50V340.00" stroke="#f23645" stroke-width="0.85"/>
<rect x="231.00" y="323.10" width="3.00" height="11.65" fill="#f23645" />
<path d="M236.42 311.00V327.75" stroke="#f23645" stroke-width="0.85"/>
<rect x="234.92" y="318.75" width="3.00" height="5.25" fill="#f23645" />
<line x1="0.00" y1="318.70" x2="318.00" y2="318.70" stroke="#e0414c" stroke-width="0.8" stroke-dasharray="0.9 1.3"/>
<text x="335.60" y="274.60" font-size="8.4" fill="#c9ccd3" stroke="#c9ccd3" stroke-width="0.18" text-anchor="middle" font-weight="normal" textLength="26.60" lengthAdjust="spacingAndGlyphs" >1.38000</text>
<text x="335.60" y="296.40" font-size="8.4" fill="#c9ccd3" stroke="#c9ccd3" stroke-width="0.18" text-anchor="middle" font-weight="normal" textLength="26.60" lengthAdjust="spacingAndGlyphs" >1.36000</text>
<text x="335.60" y="385.40" font-size="8.4" fill="#c9ccd3" stroke="#c9ccd3" stroke-width="0.18" text-anchor="middle" font-weight="normal" textLength="26.60" lengthAdjust="spacingAndGlyphs" >1.28000</text>
<text x="335.60" y="407.00" font-size="8.4" fill="#c9ccd3" stroke="#c9ccd3" stroke-width="0.18" text-anchor="middle" font-weight="normal" textLength="26.60" lengthAdjust="spacingAndGlyphs" >1.26000</text>
<text x="335.60" y="428.60" font-size="8.4" fill="#c9ccd3" stroke="#c9ccd3" stroke-width="0.18" text-anchor="middle" font-weight="normal" textLength="26.60" lengthAdjust="spacingAndGlyphs" >1.24000</text>
<text x="335.60" y="450.60" font-size="8.4" fill="#c9ccd3" stroke="#c9ccd3" stroke-width="0.18" text-anchor="middle" font-weight="normal" textLength="26.60" lengthAdjust="spacingAndGlyphs" >1.22000</text>
<text x="335.60" y="472.60" font-size="8.4" fill="#c9ccd3" stroke="#c9ccd3" stroke-width="0.18" text-anchor="middle" font-weight="normal" textLength="26.60" lengthAdjust="spacingAndGlyphs" >1.20000</text>
<rect x="316.00" y="249.80" width="38.40" height="22.40" fill="#161a25" />
<rect x="317.00" y="291.40" width="36.60" height="11.00" fill="#fae73c" />
<text x="335.90" y="299.90" font-size="8.4" fill="#131722" stroke="#131722" stroke-width="0.28" text-anchor="middle" font-weight="normal" textLength="26.20" lengthAdjust="spacingAndGlyphs" >1.33941</text>
<rect x="317.00" y="302.40" width="36.60" height="11.00" fill="#f23645" />
<text x="335.90" y="310.90" font-size="8.4" fill="#ffffff" stroke="#ffffff" stroke-width="0.28" text-anchor="middle" font-weight="normal" textLength="26.20" lengthAdjust="spacingAndGlyphs" >1.33851</text>
<rect x="317.00" y="313.40" width="36.60" height="11.00" fill="#f23645" />
<text x="335.90" y="321.90" font-size="8.4" fill="#ffffff" stroke="#ffffff" stroke-width="0.28" text-anchor="middle" font-weight="normal" textLength="26.20" lengthAdjust="spacingAndGlyphs" >1.33718</text>
<rect x="317.00" y="324.40" width="36.60" height="11.00" fill="#2962ff" />
<text x="335.90" y="332.90" font-size="8.4" fill="#ffffff" stroke="#ffffff" stroke-width="0.28" text-anchor="middle" font-weight="normal" textLength="26.20" lengthAdjust="spacingAndGlyphs" >1.33676</text>
<rect x="317.00" y="335.40" width="36.60" height="11.00" fill="#fae73c" />
<text x="335.90" y="343.90" font-size="8.4" fill="#131722" stroke="#131722" stroke-width="0.28" text-anchor="middle" font-weight="normal" textLength="26.20" lengthAdjust="spacingAndGlyphs" >1.33558</text>
<rect x="317.00" y="346.40" width="36.60" height="11.00" fill="#2962ff" />
<text x="335.90" y="354.90" font-size="8.4" fill="#ffffff" stroke="#ffffff" stroke-width="0.28" text-anchor="middle" font-weight="normal" textLength="26.20" lengthAdjust="spacingAndGlyphs" >1.32782</text>
<rect x="317.00" y="357.40" width="36.60" height="11.00" fill="#2962ff" />
<text x="335.90" y="365.90" font-size="8.4" fill="#ffffff" stroke="#ffffff" stroke-width="0.28" text-anchor="middle" font-weight="normal" textLength="26.20" lengthAdjust="spacingAndGlyphs" >1.31420</text>
<rect x="317.00" y="368.40" width="36.60" height="11.00" fill="#f23645" />
<text x="335.90" y="376.90" font-size="8.4" fill="#ffffff" stroke="#ffffff" stroke-width="0.28" text-anchor="middle" font-weight="normal" textLength="26.20" lengthAdjust="spacingAndGlyphs" >1.30645</text>
<rect x="317.00" y="432.80" width="36.60" height="11.00" fill="#388e3c" />
<text x="335.90" y="441.30" font-size="8.4" fill="#ffffff" stroke="#ffffff" stroke-width="0.28" text-anchor="middle" font-weight="normal" textLength="26.20" lengthAdjust="spacingAndGlyphs" >1.22951</text>
<rect x="319.20" y="252.90" width="34.4" height="15.6" rx="2" fill="#0d0f14" stroke="#383b46" stroke-width="0.9"/>
<text x="322.20" y="264.30" font-size="9.6" fill="#e8e9ed" stroke="#e8e9ed" stroke-width="0.28" text-anchor="start" font-weight="normal" textLength="13.40" lengthAdjust="spacingAndGlyphs" >USD</text>
<path d="M347.10 260.50L349.00 262.20L350.90 260.50" fill="none" stroke="#e2e4e9" stroke-width="1.2" stroke-linejoin="round"/>
<text x="48.50" y="490.30" font-size="8.4" fill="#c9ccd3" stroke="#c9ccd3" stroke-width="0.15" text-anchor="middle" font-weight="bold" textLength="17.60" lengthAdjust="spacingAndGlyphs" >2025</text>
<text x="149.50" y="490.30" font-size="8.4" fill="#c9ccd3" stroke="#c9ccd3" stroke-width="0.15" text-anchor="middle" font-weight="normal" textLength="11.20" lengthAdjust="spacingAndGlyphs" >7月</text>
<text x="252.00" y="490.30" font-size="8.4" fill="#c9ccd3" stroke="#c9ccd3" stroke-width="0.15" text-anchor="middle" font-weight="bold" textLength="17.60" lengthAdjust="spacingAndGlyphs" >2026</text>
<g><clipPath id="us9_262"><circle cx="13.40" cy="258.80" r="3.9"/></clipPath><g clip-path="url(#us9_262)"><rect x="9.40" y="254.80" width="8" height="8" fill="#f7f7f7"/><rect x="9.40" y="254.80" width="8" height="1.4" fill="#e8404a"/><rect x="9.40" y="257.20" width="8" height="1.3" fill="#e8404a"/><rect x="9.40" y="259.70" width="8" height="1.3" fill="#e8404a"/><rect x="9.40" y="261.80" width="8" height="1.3" fill="#e8404a"/><rect x="9.40" y="254.80" width="4.6" height="5" fill="#4aa0f2"/></g><circle cx="9.10" cy="262.90" r="4.9" fill="#161a25"/><clipPath id="uk9_262"><circle cx="9.10" cy="262.90" r="4.1"/></clipPath><g clip-path="url(#uk9_262)"><rect x="4.10" y="257.90" width="10" height="10" fill="#3b63c4"/><path d="M4.10 257.90L14.10 267.90M14.10 257.90L4.10 267.90" stroke="#f3e3e8" stroke-width="1.5"/><path d="M4.10 257.90L14.10 267.90M14.10 257.90L4.10 267.90" stroke="#ef5f68" stroke-width="0.5"/><path d="M9.10 257.90V267.90M4.10 262.90H14.10" stroke="#f6eaec" stroke-width="2.4"/><path d="M9.10 257.90V267.90M4.10 262.90H14.10" stroke="#ee4450" stroke-width="1.3"/></g></g>
<text x="20.00" y="265.30" font-size="10.2" fill="#cfd2d9" stroke="#cfd2d9" stroke-width="0.12" text-anchor="start" font-weight="normal" textLength="135.80" lengthAdjust="spacingAndGlyphs" >ポンド／米ドル・1週・OANDA</text>
<circle cx="167.60" cy="261.30" r="5.6" fill="#2c2f39"/>
<rect x="164.40" y="260.25" width="6.40" height="2.10" fill="#d2d0cb" rx="0.7"/>
<text x="5.10" y="277.60" font-size="8.7" fill="#e0414c" stroke="#e0414c" stroke-width="0.28" text-anchor="start" font-weight="normal" textLength="68.20" lengthAdjust="spacingAndGlyphs" >+0.00402 (+0.30%)</text>
<text x="5.10" y="291.00" font-size="8.7" fill="#d0d3da" stroke="#d0d3da" stroke-width="0.28" text-anchor="start" font-weight="normal" textLength="47.70" lengthAdjust="spacingAndGlyphs" >SMA 20 close</text>
<g opacity="1.0" fill="none" stroke="#6d2ff5" stroke-width="1.6" stroke-linecap="round"><circle cx="63.80" cy="287.80" r="4.4" stroke="#3b1d8f" stroke-width="3.4" opacity="0.42"/><path d="M60.10 287.10A3.75 3.75 0 0 1 66.90 285.70"/><path d="M67.50 288.50A3.75 3.75 0 0 1 60.70 289.90"/><path d="M67.70 284.50V286.70H65.60Z" fill="#6d2ff5" stroke-width="0.5"/><path d="M59.90 291.10V288.90H62.00Z" fill="#6d2ff5" stroke-width="0.5"/></g>
<text x="76.10" y="291.00" font-size="8.7" fill="#2f62f0" stroke="#2f62f0" stroke-width="0.28" text-anchor="start" font-weight="normal" textLength="28.80" lengthAdjust="spacingAndGlyphs" opacity="1">1.33676</text>
<text x="5.10" y="307.00" font-size="8.7" fill="#d0d3da" stroke="#d0d3da" stroke-width="0.28" text-anchor="start" font-weight="normal" textLength="47.70" lengthAdjust="spacingAndGlyphs" >SMA 80 close</text>
<g opacity="1.0" fill="none" stroke="#6d2ff5" stroke-width="1.6" stroke-linecap="round"><circle cx="63.80" cy="303.80" r="4.4" stroke="#3b1d8f" stroke-width="3.4" opacity="0.42"/><path d="M60.10 303.10A3.75 3.75 0 0 1 66.90 301.70"/><path d="M67.50 304.50A3.75 3.75 0 0 1 60.70 305.90"/><path d="M67.70 300.50V302.70H65.60Z" fill="#6d2ff5" stroke-width="0.5"/><path d="M59.90 307.10V304.90H62.00Z" fill="#6d2ff5" stroke-width="0.5"/></g>
<text x="76.10" y="307.00" font-size="8.7" fill="#e0414c" stroke="#e0414c" stroke-width="0.28" text-anchor="start" font-weight="normal" textLength="28.80" lengthAdjust="spacingAndGlyphs" opacity="1">1.30645</text>
<rect x="4.60" y="313.60" width="18.6" height="13" rx="1.6" fill="#161a25" fill-opacity="0.55" stroke="#414349" stroke-width="0.9"/>
<path d="M11.30 321.40L13.90 318.80L16.50 321.40" fill="none" stroke="#e4e6ea" stroke-width="1.15"/>
<g fill="#f2f3f5"><path d="M6.5 458.7H15.3V469.1H11V463.2H6.5Z"/><circle cx="18.7" cy="461.2" r="1.5"/><path d="M21.8 458.7H27L23.4 469.1H18.1Z"/></g>
</g></g>
<g><clipPath id="cp5"><rect x="356.4" y="249.8" width="339.0" height="247.2"/></clipPath><g clip-path="url(#cp5)">
<line x1="372.00" y1="249.80" x2="372.00" y2="482.00" stroke="#212635" stroke-width="0.8" />
<line x1="463.00" y1="249.80" x2="463.00" y2="482.00" stroke="#212635" stroke-width="0.8" />
<line x1="541.00" y1="249.80" x2="541.00" y2="482.00" stroke="#212635" stroke-width="0.8" />
<line x1="630.00" y1="249.80" x2="630.00" y2="482.00" stroke="#212635" stroke-width="0.8" />
<line x1="356.40" y1="282.70" x2="654.20" y2="282.70" stroke="#212635" stroke-width="0.8" />
<line x1="356.40" y1="353.10" x2="654.20" y2="353.10" stroke="#212635" stroke-width="0.8" />
<line x1="356.40" y1="390.10" x2="654.20" y2="390.10" stroke="#212635" stroke-width="0.8" />
<line x1="356.40" y1="426.10" x2="654.20" y2="426.10" stroke="#212635" stroke-width="0.8" />
<line x1="356.40" y1="448.20" x2="654.20" y2="448.20" stroke="#212635" stroke-width="0.8" />
<line x1="356.40" y1="470.60" x2="654.20" y2="470.60" stroke="#212635" stroke-width="0.8" />
<line x1="356.40" y1="320.30" x2="657.20" y2="320.30" stroke="#a6962e" stroke-width="1.1" />
<line x1="356.40" y1="323.60" x2="657.20" y2="323.60" stroke="#b52c3a" stroke-width="1.1" />
<line x1="356.40" y1="333.60" x2="657.20" y2="333.60" stroke="#a6962e" stroke-width="1.1" />
<line x1="356.40" y1="361.50" x2="657.20" y2="361.50" stroke="#2450cc" stroke-width="1.1" />
<line x1="356.40" y1="411.50" x2="657.20" y2="411.50" stroke="#2450cc" stroke-width="1.1" />
<path d="M358.8 277.8C360.0 278.1 363.5 279.5 366.0 279.8C368.5 280.0 371.0 279.0 373.5 279.0C376.0 279.0 378.5 279.2 381.0 279.8C383.5 280.3 386.2 281.2 388.5 282.5C390.8 283.8 392.9 285.7 394.8 287.5C396.6 289.3 397.9 290.8 399.8 293.1C401.6 295.4 403.9 298.9 406.0 301.2C408.1 303.6 410.2 305.9 412.2 307.5C414.3 309.1 416.2 309.6 418.5 310.6C420.8 311.6 423.9 312.8 426.0 313.8C428.1 314.7 429.1 315.7 431.0 316.3C432.9 316.9 435.2 316.9 437.2 317.6C439.3 318.3 441.6 319.3 443.5 320.6C445.4 321.9 447.2 324.4 448.5 325.6C449.8 326.8 449.8 326.2 451.0 327.8C452.2 329.4 454.3 332.6 456.0 335.1C457.7 337.6 459.3 339.8 461.0 342.6C462.7 345.4 464.3 349.2 466.0 352.0C467.7 354.8 469.1 357.3 471.0 359.5C472.9 361.7 475.2 363.3 477.2 365.1C479.3 366.9 481.4 368.3 483.5 370.3C485.6 372.3 487.9 374.5 490.0 376.9C492.1 379.2 494.2 381.9 496.2 384.4C498.3 386.9 500.4 389.4 502.5 391.9C504.6 394.4 506.7 397.0 508.8 399.4C510.8 401.8 513.1 404.3 515.0 406.2C516.9 408.2 518.5 410.0 520.0 411.2C521.5 412.5 522.5 413.3 523.8 413.8C525.0 414.2 526.0 414.2 527.5 414.0C529.0 413.8 530.4 413.0 532.5 412.2C534.6 411.5 537.5 411.1 540.0 409.4C542.5 407.7 544.8 404.5 547.4 401.9C550.0 399.3 552.7 395.9 555.5 393.8C558.3 391.6 561.8 390.7 564.2 388.8C566.8 386.8 568.5 383.9 570.5 381.9C572.5 379.9 575.3 377.4 576.3 376.5" fill="none" stroke="#2a55c9" stroke-width="1.1" />
<path d="M361.34 313.10V343.25" stroke="#f23645" stroke-width="0.85"/>
<rect x="359.84" y="317.25" width="3.00" height="20.75" fill="#f23645" />
<path d="M365.26 297.75V319.00" stroke="#f23645" stroke-width="0.85"/>
<rect x="363.76" y="306.90" width="3.00" height="11.20" fill="#f23645" />
<path d="M369.18 295.00V312.50" stroke="#f23645" stroke-width="0.85"/>
<rect x="367.68" y="301.90" width="3.00" height="6.20" fill="#f23645" />
<path d="M373.10 275.60V305.00" stroke="#f23645" stroke-width="0.85"/>
<rect x="371.60" y="290.00" width="3.00" height="13.10" fill="#f23645" />
<path d="M377.02 279.40V316.90" stroke="#0c9a81" stroke-width="0.85"/>
<rect x="375.52" y="290.00" width="3.00" height="14.00" fill="#0c9a81" />
<path d="M380.94 292.50V307.25" stroke="#f23645" stroke-width="0.85"/>
<rect x="379.44" y="293.75" width="3.00" height="10.25" fill="#f23645" />
<path d="M384.86 285.25V311.90" stroke="#f23645" stroke-width="0.85"/>
<rect x="383.36" y="287.25" width="3.00" height="16.25" fill="#f23645" />
<path d="M388.78 286.90V320.00" stroke="#0c9a81" stroke-width="0.85"/>
<rect x="387.28" y="287.25" width="3.00" height="22.15" fill="#0c9a81" />
<path d="M392.70 304.00V328.20" stroke="#0c9a81" stroke-width="0.85"/>
<rect x="391.20" y="306.90" width="3.00" height="10.35" fill="#0c9a81" />
<path d="M396.62 310.60V361.00" stroke="#0c9a81" stroke-width="0.85"/>
<rect x="395.12" y="315.25" width="3.00" height="36.75" fill="#0c9a81" />
<path d="M400.54 328.25V367.60" stroke="#f23645" stroke-width="0.85"/>
<rect x="399.04" y="332.60" width="3.00" height="21.65" fill="#f23645" />
<path d="M404.46 329.60V348.50" stroke="#0c9a81" stroke-width="0.85"/>
<rect x="402.96" y="335.50" width="3.00" height="6.25" fill="#0c9a81" />
<path d="M408.38 334.50V371.75" stroke="#0c9a81" stroke-width="0.85"/>
<rect x="406.88" y="343.25" width="3.00" height="3.75" fill="#0c9a81" />
<path d="M412.30 314.40V348.00" stroke="#f23645" stroke-width="0.85"/>
<rect x="410.80" y="316.90" width="3.00" height="30.35" fill="#f23645" />
<path d="M416.22 298.10V320.60" stroke="#f23645" stroke-width="0.85"/>
<rect x="414.72" y="305.00" width="3.00" height="13.10" fill="#f23645" />
<path d="M420.14 292.25V320.60" stroke="#0c9a81" stroke-width="0.85"/>
<rect x="418.64" y="305.60" width="3.00" height="3.80" fill="#0c9a81" />
<path d="M424.06 301.90V317.60" stroke="#0c9a81" stroke-width="0.85"/>
<rect x="422.56" y="306.90" width="3.00" height="10.35" fill="#0c9a81" />
<path d="M427.98 311.90V331.75" stroke="#0c9a81" stroke-width="0.85"/>
<rect x="426.48" y="314.75" width="3.00" height="15.00" fill="#0c9a81" />
<path d="M431.90 322.50V351.75" stroke="#0c9a81" stroke-width="0.85"/>
<rect x="430.40" y="328.20" width="3.00" height="5.70" fill="#0c9a81" />
<path d="M435.82 332.00V350.50" stroke="#0c9a81" stroke-width="0.85"/>
<rect x="434.32" y="334.50" width="3.00" height="10.60" fill="#0c9a81" />
<path d="M439.74 328.00V358.25" stroke="#0c9a81" stroke-width="0.85"/>
<rect x="438.24" y="344.50" width="3.00" height="5.60" fill="#0c9a81" />
<path d="M443.66 335.10V349.75" stroke="#f23645" stroke-width="0.85"/>
<rect x="442.16" y="341.40" width="3.00" height="3.70" fill="#f23645" />
<path d="M447.58 328.90V372.60" stroke="#0c9a81" stroke-width="0.85"/>
<rect x="446.08" y="340.75" width="3.00" height="23.75" fill="#0c9a81" />
<path d="M451.50 361.00V411.25" stroke="#0c9a81" stroke-width="0.85"/>
<rect x="450.00" y="363.25" width="3.00" height="29.50" fill="#0c9a81" />
<path d="M455.42 383.10V419.75" stroke="#0c9a81" stroke-width="0.85"/>
<rect x="453.92" y="392.25" width="3.00" height="15.85" fill="#0c9a81" />
<path d="M459.34 402.50V426.90" stroke="#f23645" stroke-width="0.85"/>
<rect x="457.84" y="407.50" width="3.00" height="1.25" fill="#f23645" />
<path d="M463.26 403.10V423.10" stroke="#f23645" stroke-width="0.85"/>
<rect x="461.76" y="412.50" width="3.00" height="3.10" fill="#f23645" />
<path d="M467.18 410.00V458.75" stroke="#0c9a81" stroke-width="0.85"/>
<rect x="465.68" y="411.00" width="3.00" height="45.00" fill="#0c9a81" />
<path d="M471.10 443.00V458.75" stroke="#f23645" stroke-width="0.85"/>
<rect x="469.60" y="443.50" width="3.00" height="12.50" fill="#f23645" />
<path d="M475.02 410.60V446.00" stroke="#f23645" stroke-width="0.85"/>
<rect x="473.52" y="412.25" width="3.00" height="33.35" fill="#f23645" />
<path d="M478.94 398.75V427.50" stroke="#f23645" stroke-width="0.85"/>
<rect x="477.44" y="403.10" width="3.00" height="12.90" fill="#f23645" />
<path d="M482.86 392.75V412.75" stroke="#f23645" stroke-width="0.85"/>
<rect x="481.36" y="399.00" width="3.00" height="6.00" fill="#f23645" />
<path d="M486.78 395.25V419.75" stroke="#0c9a81" stroke-width="0.85"/>
<rect x="485.28" y="399.40" width="3.00" height="9.60" fill="#0c9a81" />
<path d="M490.70 405.00V431.50" stroke="#0c9a81" stroke-width="0.85"/>
<rect x="489.20" y="405.25" width="3.00" height="9.50" fill="#0c9a81" />
<path d="M494.62 384.40V425.60" stroke="#f23645" stroke-width="0.85"/>
<rect x="493.12" y="393.10" width="3.00" height="21.65" fill="#f23645" />
<path d="M498.54 390.00V423.10" stroke="#0c9a81" stroke-width="0.85"/>
<rect x="497.04" y="391.50" width="3.00" height="8.50" fill="#0c9a81" />
<path d="M502.46 391.90V412.50" stroke="#0c9a81" stroke-width="0.85"/>
<rect x="500.96" y="402.75" width="3.00" height="4.15" fill="#0c9a81" />
<path d="M506.38 398.10V413.50" stroke="#0c9a81" stroke-width="0.85"/>
<rect x="504.88" y="405.25" width="3.00" height="4.75" fill="#0c9a81" />
<path d="M510.30 406.25V446.50" stroke="#0c9a81" stroke-width="0.85"/>
<rect x="508.80" y="407.75" width="3.00" height="33.75" fill="#0c9a81" />
<path d="M514.22 417.50V448.50" stroke="#f23645" stroke-width="0.85"/>
<rect x="512.72" y="436.25" width="3.00" height="5.25" fill="#f23645" />
<path d="M518.14 423.10V448.50" stroke="#f23645" stroke-width="0.85"/>
<rect x="516.64" y="426.90" width="3.00" height="9.10" fill="#f23645" />
<path d="M522.06 419.40V432.50" stroke="#f23645" stroke-width="0.85"/>
<rect x="520.56" y="424.75" width="3.00" height="1.25" fill="#f23645" />
<path d="M525.98 384.40V427.50" stroke="#f23645" stroke-width="0.85"/>
<rect x="524.48" y="402.25" width="3.00" height="21.50" fill="#f23645" />
<path d="M529.90 374.00V417.50" stroke="#f23645" stroke-width="0.85"/>
<rect x="528.40" y="374.40" width="3.00" height="26.60" fill="#f23645" />
<path d="M533.82 364.75V386.25" stroke="#0c9a81" stroke-width="0.85"/>
<rect x="532.32" y="375.00" width="3.00" height="1.25" fill="#0c9a81" />
<path d="M537.74 369.75V389.60" stroke="#0c9a81" stroke-width="0.85"/>
<rect x="536.24" y="376.00" width="3.00" height="3.00" fill="#0c9a81" />
<path d="M541.66 361.90V387.10" stroke="#0c9a81" stroke-width="0.85"/>
<rect x="540.16" y="380.00" width="3.00" height="5.60" fill="#0c9a81" />
<path d="M545.58 381.90V397.10" stroke="#0c9a81" stroke-width="0.85"/>
<rect x="544.08" y="382.60" width="3.00" height="3.00" fill="#0c9a81" />
<path d="M549.50 334.00V388.40" stroke="#f23645" stroke-width="0.85"/>
<rect x="548.00" y="334.75" width="3.00" height="53.25" fill="#f23645" />
<path d="M553.42 323.10V345.25" stroke="#0c9a81" stroke-width="0.85"/>
<rect x="551.92" y="334.75" width="3.00" height="9.65" fill="#0c9a81" />
<path d="M557.34 331.00V347.75" stroke="#f23645" stroke-width="0.85"/>
<rect x="555.84" y="342.25" width="3.00" height="2.50" fill="#f23645" />
<path d="M561.26 336.90V351.90" stroke="#0c9a81" stroke-width="0.85"/>
<rect x="559.76" y="344.00" width="3.00" height="2.50" fill="#0c9a81" />
<path d="M565.18 333.10V358.10" stroke="#0c9a81" stroke-width="0.85"/>
<rect x="563.68" y="346.00" width="3.00" height="8.90" fill="#0c9a81" />
<path d="M569.10 321.90V355.10" stroke="#f23645" stroke-width="0.85"/>
<rect x="567.60" y="324.40" width="3.00" height="30.35" fill="#f23645" />
<path d="M573.02 304.00V333.75" stroke="#f23645" stroke-width="0.85"/>
<rect x="571.52" y="322.25" width="3.00" height="3.35" fill="#f23645" />
<path d="M576.94 318.10V338.10" stroke="#0c9a81" stroke-width="0.85"/>
<rect x="575.44" y="321.00" width="3.00" height="7.10" fill="#0c9a81" />
<text x="674.80" y="285.70" font-size="8.4" fill="#c9ccd3" stroke="#c9ccd3" stroke-width="0.18" text-anchor="middle" font-weight="normal" textLength="26.60" lengthAdjust="spacingAndGlyphs" >1.35000</text>
<text x="674.80" y="356.10" font-size="8.4" fill="#c9ccd3" stroke="#c9ccd3" stroke-width="0.18" text-anchor="middle" font-weight="normal" textLength="26.60" lengthAdjust="spacingAndGlyphs" >1.33000</text>
<text x="674.80" y="393.10" font-size="8.4" fill="#c9ccd3" stroke="#c9ccd3" stroke-width="0.18" text-anchor="middle" font-weight="normal" textLength="26.60" lengthAdjust="spacingAndGlyphs" >1.32000</text>
<text x="674.80" y="429.10" font-size="8.4" fill="#c9ccd3" stroke="#c9ccd3" stroke-width="0.18" text-anchor="middle" font-weight="normal" textLength="26.60" lengthAdjust="spacingAndGlyphs" >1.31000</text>
<text x="674.80" y="451.20" font-size="8.4" fill="#c9ccd3" stroke="#c9ccd3" stroke-width="0.18" text-anchor="middle" font-weight="normal" textLength="26.60" lengthAdjust="spacingAndGlyphs" >1.30400</text>
<text x="674.80" y="473.60" font-size="8.4" fill="#c9ccd3" stroke="#c9ccd3" stroke-width="0.18" text-anchor="middle" font-weight="normal" textLength="26.60" lengthAdjust="spacingAndGlyphs" >1.29800</text>
<rect x="655.20" y="249.80" width="40.20" height="22.40" fill="#161a25" />
<rect x="656.20" y="300.20" width="36.60" height="11.00" fill="#fae73c" />
<text x="675.10" y="308.70" font-size="8.4" fill="#131722" stroke="#131722" stroke-width="0.28" text-anchor="middle" font-weight="normal" textLength="26.20" lengthAdjust="spacingAndGlyphs" >1.33941</text>
<rect x="656.20" y="311.20" width="36.60" height="11.00" fill="#f23645" />
<text x="675.10" y="319.70" font-size="8.4" fill="#ffffff" stroke="#ffffff" stroke-width="0.28" text-anchor="middle" font-weight="normal" textLength="26.20" lengthAdjust="spacingAndGlyphs" >1.33851</text>
<rect x="656.20" y="322.20" width="36.60" height="11.00" fill="#0c9a81" />
<text x="675.10" y="330.70" font-size="8.4" fill="#ffffff" stroke="#ffffff" stroke-width="0.28" text-anchor="middle" font-weight="normal" textLength="26.20" lengthAdjust="spacingAndGlyphs" >1.33718</text>
<rect x="656.20" y="333.20" width="36.60" height="11.00" fill="#fae73c" />
<text x="675.10" y="341.70" font-size="8.4" fill="#131722" stroke="#131722" stroke-width="0.28" text-anchor="middle" font-weight="normal" textLength="26.20" lengthAdjust="spacingAndGlyphs" >1.33558</text>
<rect x="656.20" y="356.20" width="36.60" height="11.00" fill="#2962ff" />
<text x="675.10" y="364.70" font-size="8.4" fill="#ffffff" stroke="#ffffff" stroke-width="0.28" text-anchor="middle" font-weight="normal" textLength="26.20" lengthAdjust="spacingAndGlyphs" >1.32782</text>
<rect x="656.20" y="371.10" width="36.60" height="11.00" fill="#2962ff" />
<text x="675.10" y="379.60" font-size="8.4" fill="#ffffff" stroke="#ffffff" stroke-width="0.28" text-anchor="middle" font-weight="normal" textLength="26.20" lengthAdjust="spacingAndGlyphs" >1.32357</text>
<rect x="656.20" y="405.90" width="36.60" height="11.00" fill="#2962ff" />
<text x="675.10" y="414.40" font-size="8.4" fill="#ffffff" stroke="#ffffff" stroke-width="0.28" text-anchor="middle" font-weight="normal" textLength="26.20" lengthAdjust="spacingAndGlyphs" >1.31420</text>
<rect x="658.00" y="252.90" width="34.4" height="15.6" rx="2" fill="#0d0f14" stroke="#383b46" stroke-width="0.9"/>
<text x="661.00" y="264.30" font-size="9.6" fill="#e8e9ed" stroke="#e8e9ed" stroke-width="0.28" text-anchor="start" font-weight="normal" textLength="13.40" lengthAdjust="spacingAndGlyphs" >USD</text>
<path d="M685.90 260.50L687.80 262.20L689.70 260.50" fill="none" stroke="#e2e4e9" stroke-width="1.2" stroke-linejoin="round"/>
<text x="373.10" y="490.30" font-size="8.4" fill="#c9ccd3" stroke="#c9ccd3" stroke-width="0.15" text-anchor="middle" font-weight="normal" textLength="15.30" lengthAdjust="spacingAndGlyphs" >10月</text>
<text x="462.60" y="490.30" font-size="8.4" fill="#c9ccd3" stroke="#c9ccd3" stroke-width="0.15" text-anchor="middle" font-weight="normal" textLength="15.30" lengthAdjust="spacingAndGlyphs" >11月</text>
<text x="541.00" y="490.30" font-size="8.4" fill="#c9ccd3" stroke="#c9ccd3" stroke-width="0.15" text-anchor="middle" font-weight="normal" textLength="15.30" lengthAdjust="spacingAndGlyphs" >12月</text>
<text x="631.00" y="490.30" font-size="8.4" fill="#c9ccd3" stroke="#c9ccd3" stroke-width="0.15" text-anchor="middle" font-weight="bold" textLength="17.60" lengthAdjust="spacingAndGlyphs" >2026</text>
<g><clipPath id="us367_262"><circle cx="371.80" cy="258.80" r="3.9"/></clipPath><g clip-path="url(#us367_262)"><rect x="367.80" y="254.80" width="8" height="8" fill="#f7f7f7"/><rect x="367.80" y="254.80" width="8" height="1.4" fill="#e8404a"/><rect x="367.80" y="257.20" width="8" height="1.3" fill="#e8404a"/><rect x="367.80" y="259.70" width="8" height="1.3" fill="#e8404a"/><rect x="367.80" y="261.80" width="8" height="1.3" fill="#e8404a"/><rect x="367.80" y="254.80" width="4.6" height="5" fill="#4aa0f2"/></g><circle cx="367.50" cy="262.90" r="4.9" fill="#161a25"/><clipPath id="uk367_262"><circle cx="367.50" cy="262.90" r="4.1"/></clipPath><g clip-path="url(#uk367_262)"><rect x="362.50" y="257.90" width="10" height="10" fill="#3b63c4"/><path d="M362.50 257.90L372.50 267.90M372.50 257.90L362.50 267.90" stroke="#f3e3e8" stroke-width="1.5"/><path d="M362.50 257.90L372.50 267.90M372.50 257.90L362.50 267.90" stroke="#ef5f68" stroke-width="0.5"/><path d="M367.50 257.90V267.90M362.50 262.90H372.50" stroke="#f6eaec" stroke-width="2.4"/><path d="M367.50 257.90V267.90M362.50 262.90H372.50" stroke="#ee4450" stroke-width="1.3"/></g></g>
<text x="378.40" y="265.30" font-size="10.2" fill="#cfd2d9" stroke="#cfd2d9" stroke-width="0.12" text-anchor="start" font-weight="normal" textLength="136.20" lengthAdjust="spacingAndGlyphs" >ポンド／米ドル・1日・OANDA</text>
<circle cx="526.30" cy="261.30" r="5.6" fill="#2c2f39"/>
<rect x="523.10" y="260.25" width="6.40" height="2.10" fill="#d2d0cb" rx="0.7"/>
<text x="363.50" y="277.60" font-size="8.7" fill="#1d9e86" stroke="#1d9e86" stroke-width="0.28" text-anchor="start" font-weight="normal" textLength="68.40" lengthAdjust="spacingAndGlyphs" >−0.00148 (−0.11%)</text>
<g opacity="1.0" fill="none" stroke="#6d2ff5" stroke-width="1.6" stroke-linecap="round"><circle cx="398.50" cy="289.30" r="4.4" stroke="#3b1d8f" stroke-width="3.4" opacity="0.42"/><path d="M394.80 288.60A3.75 3.75 0 0 1 401.60 287.20"/><path d="M402.20 290.00A3.75 3.75 0 0 1 395.40 291.40"/><path d="M402.40 286.00V288.20H400.30Z" fill="#6d2ff5" stroke-width="0.5"/><path d="M394.60 292.60V290.40H396.70Z" fill="#6d2ff5" stroke-width="0.5"/></g>
<rect x="363.40" y="282.40" width="18.6" height="13" rx="1.6" fill="#161a25" fill-opacity="0.55" stroke="#414349" stroke-width="0.9"/>
<path d="M370.10 287.60L372.70 290.20L375.30 287.60" fill="none" stroke="#e4e6ea" stroke-width="1.15"/>
<g fill="none" stroke="#c3c6ce" stroke-width="0.95" stroke-linejoin="round"><path d="M670.6 487.6l2.5-4.3h5l2.5 4.3l-2.5 4.3h-5z"/><circle cx="675.6" cy="487.6" r="1.55"/></g>
</g></g>
<g><clipPath id="cp6"><rect x="697.4" y="249.8" width="325.0" height="247.2"/></clipPath><g clip-path="url(#cp6)">
<line x1="710.00" y1="249.80" x2="710.00" y2="482.00" stroke="#212635" stroke-width="0.8" />
<line x1="757.00" y1="249.80" x2="757.00" y2="482.00" stroke="#212635" stroke-width="0.8" />
<line x1="804.00" y1="249.80" x2="804.00" y2="482.00" stroke="#212635" stroke-width="0.8" />
<line x1="851.00" y1="249.80" x2="851.00" y2="482.00" stroke="#212635" stroke-width="0.8" />
<line x1="898.00" y1="249.80" x2="898.00" y2="482.00" stroke="#212635" stroke-width="0.8" />
<line x1="945.00" y1="249.80" x2="945.00" y2="482.00" stroke="#212635" stroke-width="0.8" />
<line x1="697.40" y1="284.50" x2="980.80" y2="284.50" stroke="#212635" stroke-width="0.8" />
<line x1="697.40" y1="313.40" x2="980.80" y2="313.40" stroke="#212635" stroke-width="0.8" />
<line x1="697.40" y1="342.60" x2="980.80" y2="342.60" stroke="#212635" stroke-width="0.8" />
<line x1="697.40" y1="365.70" x2="980.80" y2="365.70" stroke="#212635" stroke-width="0.8" />
<line x1="697.40" y1="388.80" x2="980.80" y2="388.80" stroke="#212635" stroke-width="0.8" />
<line x1="697.40" y1="412.30" x2="980.80" y2="412.30" stroke="#212635" stroke-width="0.8" />
<line x1="697.40" y1="434.90" x2="980.80" y2="434.90" stroke="#212635" stroke-width="0.8" />
<line x1="697.40" y1="458.30" x2="980.80" y2="458.30" stroke="#212635" stroke-width="0.8" />
<line x1="697.40" y1="395.50" x2="983.80" y2="395.50" stroke="#c6b12d" stroke-width="1.1" />
<path d="M697.0 383.1C697.6 384.2 699.3 387.7 700.8 390.0C702.2 392.3 704.3 395.3 705.8 396.9C707.2 398.5 708.0 398.4 709.5 399.6C711.0 400.9 712.8 403.0 714.5 404.4C716.2 405.8 717.8 407.1 719.5 407.8C721.2 408.4 722.8 408.6 724.5 408.5C726.2 408.4 727.8 408.0 729.5 407.2C731.2 406.5 732.8 405.3 734.5 403.8C736.2 402.2 737.8 400.2 739.5 398.1C741.2 396.0 742.8 393.3 744.5 391.2C746.2 389.2 747.8 387.6 749.5 385.6C751.2 383.6 752.5 382.0 754.5 379.5C756.5 377.0 759.3 373.9 761.4 370.6C763.5 367.4 765.2 363.4 767.0 360.0C768.8 356.6 770.3 353.3 772.0 350.0C773.7 346.7 775.3 343.2 777.0 340.0C778.7 336.8 780.6 333.1 782.0 330.6C783.4 328.1 783.9 327.3 785.1 325.0C786.4 322.7 787.9 319.2 789.5 316.9C791.1 314.6 792.8 312.5 794.5 311.4C796.2 310.3 797.8 310.3 799.5 310.2C801.2 310.2 802.8 310.7 804.5 311.2C806.2 311.8 807.6 312.5 809.5 313.8C811.4 315.0 813.9 317.0 815.8 318.8C817.6 320.5 819.0 322.3 820.8 324.0C822.5 325.7 824.3 326.9 826.2 328.9C828.2 330.9 830.4 333.4 832.5 335.8C834.6 338.1 836.7 341.1 838.8 343.2C840.8 345.4 842.9 347.7 845.0 348.9C847.1 350.1 848.3 350.1 851.2 350.5C854.2 350.9 858.8 351.2 862.5 351.0C866.2 350.8 870.8 350.1 873.8 349.2C876.7 348.4 877.7 347.3 880.0 345.8C882.3 344.2 885.0 342.0 887.5 340.1C890.0 338.2 892.5 336.3 895.0 334.5C897.5 332.7 900.4 331.0 902.5 329.3C904.6 327.6 905.4 326.2 907.5 324.4C909.6 322.6 912.9 320.0 915.0 318.8C917.1 317.5 918.2 317.3 920.0 316.9C921.8 316.5 923.9 316.1 925.6 316.5C927.3 316.9 928.4 318.5 930.0 319.2C931.6 319.9 933.3 320.3 935.0 320.6C936.7 320.9 939.2 321.1 940.0 321.2" fill="none" stroke="#2a55c9" stroke-width="1.1" />
<path d="M698.80 435.00V459.00" stroke="#0c9a81" stroke-width="0.85"/>
<rect x="697.30" y="451.90" width="3.00" height="5.35" fill="#0c9a81" />
<path d="M702.72 426.90V457.60" stroke="#f23645" stroke-width="0.85"/>
<rect x="701.22" y="434.40" width="3.00" height="22.85" fill="#f23645" />
<path d="M706.64 430.00V453.10" stroke="#0c9a81" stroke-width="0.85"/>
<rect x="705.14" y="435.00" width="3.00" height="2.75" fill="#0c9a81" />
<path d="M710.56 415.00V440.25" stroke="#f23645" stroke-width="0.85"/>
<rect x="709.06" y="419.40" width="3.00" height="18.20" fill="#f23645" />
<path d="M714.48 409.75V429.75" stroke="#0c9a81" stroke-width="0.85"/>
<rect x="712.98" y="419.40" width="3.00" height="9.35" fill="#0c9a81" />
<path d="M718.40 407.25V430.10" stroke="#f23645" stroke-width="0.85"/>
<rect x="716.90" y="409.00" width="3.00" height="20.75" fill="#f23645" />
<path d="M722.32 368.10V413.50" stroke="#f23645" stroke-width="0.85"/>
<rect x="720.82" y="370.00" width="3.00" height="38.75" fill="#f23645" />
<path d="M726.24 346.90V376.90" stroke="#f23645" stroke-width="0.85"/>
<rect x="724.74" y="347.25" width="3.00" height="21.75" fill="#f23645" />
<path d="M730.16 330.25V356.00" stroke="#f23645" stroke-width="0.85"/>
<rect x="728.66" y="342.25" width="3.00" height="5.50" fill="#f23645" />
<path d="M734.08 331.00V350.60" stroke="#f23645" stroke-width="0.85"/>
<rect x="732.58" y="341.90" width="3.00" height="1.00" fill="#f23645" />
<path d="M738.00 311.25V346.90" stroke="#f23645" stroke-width="0.85"/>
<rect x="736.50" y="319.00" width="3.00" height="23.50" fill="#f23645" />
<path d="M741.92 295.00V321.30" stroke="#f23645" stroke-width="0.85"/>
<rect x="740.42" y="295.60" width="3.00" height="25.40" fill="#f23645" />
<path d="M745.84 293.10V306.25" stroke="#f23645" stroke-width="0.85"/>
<rect x="744.34" y="293.50" width="3.00" height="3.40" fill="#f23645" />
<path d="M749.76 291.00V310.00" stroke="#0c9a81" stroke-width="0.85"/>
<rect x="748.26" y="293.75" width="3.00" height="14.35" fill="#0c9a81" />
<path d="M753.68 295.00V311.90" stroke="#f23645" stroke-width="0.85"/>
<rect x="752.18" y="295.60" width="3.00" height="11.65" fill="#f23645" />
<path d="M757.60 282.75V297.75" stroke="#f23645" stroke-width="0.85"/>
<rect x="756.10" y="289.00" width="3.00" height="7.00" fill="#f23645" />
<path d="M761.52 276.90V303.75" stroke="#0c9a81" stroke-width="0.85"/>
<rect x="760.02" y="288.50" width="3.00" height="13.00" fill="#0c9a81" />
<path d="M765.44 279.00V302.25" stroke="#f23645" stroke-width="0.85"/>
<rect x="763.94" y="281.00" width="3.00" height="20.90" fill="#f23645" />
<path d="M769.36 278.50V287.25" stroke="#0c9a81" stroke-width="0.85"/>
<rect x="767.86" y="281.90" width="3.00" height="5.00" fill="#0c9a81" />
<path d="M773.28 281.90V304.00" stroke="#0c9a81" stroke-width="0.85"/>
<rect x="771.78" y="285.60" width="3.00" height="12.15" fill="#0c9a81" />
<path d="M777.20 284.40V297.25" stroke="#f23645" stroke-width="0.85"/>
<rect x="775.70" y="291.00" width="3.00" height="5.90" fill="#f23645" />
<path d="M781.12 285.60V297.75" stroke="#0c9a81" stroke-width="0.85"/>
<rect x="779.62" y="289.75" width="3.00" height="1.50" fill="#0c9a81" />
<path d="M785.04 288.75V302.75" stroke="#0c9a81" stroke-width="0.85"/>
<rect x="783.54" y="291.00" width="3.00" height="5.25" fill="#0c9a81" />
<path d="M788.96 295.00V316.50" stroke="#0c9a81" stroke-width="0.85"/>
<rect x="787.46" y="295.60" width="3.00" height="19.65" fill="#0c9a81" />
<path d="M792.88 313.10V336.00" stroke="#0c9a81" stroke-width="0.85"/>
<rect x="791.38" y="315.60" width="3.00" height="15.80" fill="#0c9a81" />
<path d="M796.80 321.50V330.60" stroke="#f23645" stroke-width="0.85"/>
<rect x="795.30" y="323.75" width="3.00" height="6.25" fill="#f23645" />
<path d="M800.72 321.50V366.90" stroke="#0c9a81" stroke-width="0.85"/>
<rect x="799.22" y="324.75" width="3.00" height="40.00" fill="#0c9a81" />
<path d="M804.64 362.00V381.90" stroke="#0c9a81" stroke-width="0.85"/>
<rect x="803.14" y="364.00" width="3.00" height="7.90" fill="#0c9a81" />
<path d="M808.56 368.60V383.60" stroke="#0c9a81" stroke-width="0.85"/>
<rect x="807.06" y="371.25" width="3.00" height="3.75" fill="#0c9a81" />
<path d="M812.48 370.00V387.75" stroke="#0c9a81" stroke-width="0.85"/>
<rect x="810.98" y="374.75" width="3.00" height="8.25" fill="#0c9a81" />
<path d="M816.40 368.50V391.00" stroke="#0c9a81" stroke-width="0.85"/>
<rect x="814.90" y="383.00" width="3.00" height="7.60" fill="#0c9a81" />
<path d="M820.32 380.10V391.90" stroke="#f23645" stroke-width="0.85"/>
<rect x="818.82" y="383.10" width="3.00" height="8.40" fill="#f23645" />
<path d="M824.24 375.60V384.40" stroke="#f23645" stroke-width="0.85"/>
<rect x="822.74" y="381.90" width="3.00" height="2.10" fill="#f23645" />
<path d="M828.16 367.00V382.80" stroke="#f23645" stroke-width="0.85"/>
<rect x="826.66" y="372.90" width="3.00" height="9.60" fill="#f23645" />
<path d="M832.08 371.00V386.00" stroke="#0c9a81" stroke-width="0.85"/>
<rect x="830.58" y="372.70" width="3.00" height="12.90" fill="#0c9a81" />
<path d="M836.00 370.50V386.00" stroke="#f23645" stroke-width="0.85"/>
<rect x="834.50" y="378.20" width="3.00" height="7.40" fill="#f23645" />
<path d="M839.92 376.20V391.00" stroke="#0c9a81" stroke-width="0.85"/>
<rect x="838.42" y="378.20" width="3.00" height="5.55" fill="#0c9a81" />
<path d="M843.84 357.60V387.75" stroke="#f23645" stroke-width="0.85"/>
<rect x="842.34" y="360.70" width="3.00" height="23.05" fill="#f23645" />
<path d="M847.76 331.00V360.50" stroke="#f23645" stroke-width="0.85"/>
<rect x="846.26" y="336.75" width="3.00" height="23.35" fill="#f23645" />
<path d="M851.68 290.20V338.00" stroke="#f23645" stroke-width="0.85"/>
<rect x="850.18" y="290.60" width="3.00" height="47.00" fill="#f23645" />
<path d="M855.60 285.00V301.90" stroke="#0c9a81" stroke-width="0.85"/>
<rect x="854.10" y="290.25" width="3.00" height="1.65" fill="#0c9a81" />
<path d="M859.52 290.00V307.60" stroke="#0c9a81" stroke-width="0.85"/>
<rect x="858.02" y="291.00" width="3.00" height="16.25" fill="#0c9a81" />
<path d="M863.44 289.00V310.60" stroke="#f23645" stroke-width="0.85"/>
<rect x="861.94" y="296.00" width="3.00" height="11.75" fill="#f23645" />
<path d="M867.36 295.20V304.75" stroke="#0c9a81" stroke-width="0.85"/>
<rect x="865.86" y="295.60" width="3.00" height="7.90" fill="#0c9a81" />
<path d="M871.28 302.50V321.50" stroke="#0c9a81" stroke-width="0.85"/>
<rect x="869.78" y="302.75" width="3.00" height="13.75" fill="#0c9a81" />
<path d="M875.20 313.10V322.25" stroke="#f23645" stroke-width="0.85"/>
<rect x="873.70" y="314.40" width="3.00" height="2.10" fill="#f23645" />
<path d="M879.12 305.00V324.40" stroke="#0c9a81" stroke-width="0.85"/>
<rect x="877.62" y="313.10" width="3.00" height="8.80" fill="#0c9a81" />
<path d="M883.04 306.00V322.50" stroke="#f23645" stroke-width="0.85"/>
<rect x="881.54" y="310.00" width="3.00" height="11.90" fill="#f23645" />
<path d="M886.96 292.25V338.90" stroke="#0c9a81" stroke-width="0.85"/>
<rect x="885.46" y="310.00" width="3.00" height="12.25" fill="#0c9a81" />
<path d="M890.88 316.50V336.75" stroke="#0c9a81" stroke-width="0.85"/>
<rect x="889.38" y="321.90" width="3.00" height="3.80" fill="#0c9a81" />
<path d="M894.80 323.50V343.25" stroke="#0c9a81" stroke-width="0.85"/>
<rect x="893.30" y="324.00" width="3.00" height="10.75" fill="#0c9a81" />
<path d="M898.72 323.75V344.25" stroke="#f23645" stroke-width="0.85"/>
<rect x="897.22" y="326.10" width="3.00" height="7.40" fill="#f23645" />
<path d="M902.64 297.50V327.50" stroke="#f23645" stroke-width="0.85"/>
<rect x="901.14" y="322.50" width="3.00" height="4.40" fill="#f23645" />
<path d="M906.56 313.10V325.60" stroke="#f23645" stroke-width="0.85"/>
<rect x="905.06" y="316.00" width="3.00" height="7.10" fill="#f23645" />
<path d="M910.48 313.75V320.25" stroke="#f23645" stroke-width="0.85"/>
<rect x="908.98" y="315.60" width="3.00" height="1.30" fill="#f23645" />
<path d="M914.40 303.10V315.60" stroke="#f23645" stroke-width="0.85"/>
<rect x="912.90" y="311.00" width="3.00" height="4.25" fill="#f23645" />
<path d="M918.32 310.60V338.00" stroke="#0c9a81" stroke-width="0.85"/>
<rect x="916.82" y="311.00" width="3.00" height="26.60" fill="#0c9a81" />
<path d="M922.24 336.60V347.00" stroke="#0c9a81" stroke-width="0.85"/>
<rect x="920.74" y="337.00" width="3.00" height="7.25" fill="#0c9a81" />
<path d="M926.16 326.00V343.60" stroke="#f23645" stroke-width="0.85"/>
<rect x="924.66" y="331.75" width="3.00" height="11.50" fill="#f23645" />
<path d="M930.08 310.25V334.30" stroke="#0c9a81" stroke-width="0.85"/>
<rect x="928.58" y="331.00" width="3.00" height="2.90" fill="#0c9a81" />
<path d="M934.00 315.60V334.30" stroke="#f23645" stroke-width="0.85"/>
<rect x="932.50" y="320.60" width="3.00" height="13.30" fill="#f23645" />
<path d="M937.92 319.90V332.40" stroke="#0c9a81" stroke-width="0.85"/>
<rect x="936.42" y="320.25" width="3.00" height="11.75" fill="#0c9a81" />
<path d="M941.84 302.30V331.80" stroke="#f23645" stroke-width="0.85"/>
<rect x="940.34" y="302.75" width="3.00" height="28.65" fill="#f23645" />
<text x="1001.40" y="287.50" font-size="8.4" fill="#c9ccd3" stroke="#c9ccd3" stroke-width="0.18" text-anchor="middle" font-weight="normal" textLength="26.60" lengthAdjust="spacingAndGlyphs" >1.33750</text>
<text x="1001.40" y="316.40" font-size="8.4" fill="#c9ccd3" stroke="#c9ccd3" stroke-width="0.18" text-anchor="middle" font-weight="normal" textLength="26.60" lengthAdjust="spacingAndGlyphs" >1.33700</text>
<text x="1001.40" y="345.60" font-size="8.4" fill="#c9ccd3" stroke="#c9ccd3" stroke-width="0.18" text-anchor="middle" font-weight="normal" textLength="26.60" lengthAdjust="spacingAndGlyphs" >1.33650</text>
<text x="1001.40" y="368.70" font-size="8.4" fill="#c9ccd3" stroke="#c9ccd3" stroke-width="0.18" text-anchor="middle" font-weight="normal" textLength="26.60" lengthAdjust="spacingAndGlyphs" >1.33610</text>
<text x="1001.40" y="391.80" font-size="8.4" fill="#c9ccd3" stroke="#c9ccd3" stroke-width="0.18" text-anchor="middle" font-weight="normal" textLength="26.60" lengthAdjust="spacingAndGlyphs" >1.33570</text>
<text x="1001.40" y="415.30" font-size="8.4" fill="#c9ccd3" stroke="#c9ccd3" stroke-width="0.18" text-anchor="middle" font-weight="normal" textLength="26.60" lengthAdjust="spacingAndGlyphs" >1.33530</text>
<text x="1001.40" y="437.90" font-size="8.4" fill="#c9ccd3" stroke="#c9ccd3" stroke-width="0.18" text-anchor="middle" font-weight="normal" textLength="26.60" lengthAdjust="spacingAndGlyphs" >1.33490</text>
<text x="1001.40" y="461.30" font-size="8.4" fill="#c9ccd3" stroke="#c9ccd3" stroke-width="0.18" text-anchor="middle" font-weight="normal" textLength="26.60" lengthAdjust="spacingAndGlyphs" >1.33450</text>
<rect x="981.80" y="249.80" width="40.60" height="22.40" fill="#161a25" />
<rect x="982.80" y="297.70" width="36.60" height="11.00" fill="#f23645" />
<text x="1001.70" y="306.20" font-size="8.4" fill="#ffffff" stroke="#ffffff" stroke-width="0.28" text-anchor="middle" font-weight="normal" textLength="26.20" lengthAdjust="spacingAndGlyphs" >1.33718</text>
<rect x="982.80" y="316.60" width="36.60" height="11.00" fill="#2962ff" />
<text x="1001.70" y="325.10" font-size="8.4" fill="#ffffff" stroke="#ffffff" stroke-width="0.28" text-anchor="middle" font-weight="normal" textLength="26.20" lengthAdjust="spacingAndGlyphs" >1.33685</text>
<rect x="982.80" y="390.20" width="36.60" height="11.00" fill="#fae73c" />
<text x="1001.70" y="398.70" font-size="8.4" fill="#131722" stroke="#131722" stroke-width="0.28" text-anchor="middle" font-weight="normal" textLength="26.20" lengthAdjust="spacingAndGlyphs" >1.33558</text>
<rect x="985.20" y="252.90" width="34.4" height="15.6" rx="2" fill="#0d0f14" stroke="#383b46" stroke-width="0.9"/>
<text x="988.20" y="264.30" font-size="9.6" fill="#e8e9ed" stroke="#e8e9ed" stroke-width="0.28" text-anchor="start" font-weight="normal" textLength="13.40" lengthAdjust="spacingAndGlyphs" >USD</text>
<path d="M1013.10 260.50L1015.00 262.20L1016.90 260.50" fill="none" stroke="#e2e4e9" stroke-width="1.2" stroke-linejoin="round"/>
<text x="710.00" y="490.30" font-size="8.4" fill="#c9ccd3" stroke="#c9ccd3" stroke-width="0.15" text-anchor="middle" font-weight="normal" textLength="18.70" lengthAdjust="spacingAndGlyphs" >02:00</text>
<text x="757.00" y="490.30" font-size="8.4" fill="#c9ccd3" stroke="#c9ccd3" stroke-width="0.15" text-anchor="middle" font-weight="normal" textLength="18.70" lengthAdjust="spacingAndGlyphs" >03:00</text>
<text x="804.00" y="490.30" font-size="8.4" fill="#c9ccd3" stroke="#c9ccd3" stroke-width="0.15" text-anchor="middle" font-weight="normal" textLength="18.70" lengthAdjust="spacingAndGlyphs" >04:00</text>
<text x="851.00" y="490.30" font-size="8.4" fill="#c9ccd3" stroke="#c9ccd3" stroke-width="0.15" text-anchor="middle" font-weight="normal" textLength="18.70" lengthAdjust="spacingAndGlyphs" >05:00</text>
<text x="898.00" y="490.30" font-size="8.4" fill="#c9ccd3" stroke="#c9ccd3" stroke-width="0.15" text-anchor="middle" font-weight="normal" textLength="18.70" lengthAdjust="spacingAndGlyphs" >06:00</text>
<text x="945.50" y="490.30" font-size="8.4" fill="#c9ccd3" stroke="#c9ccd3" stroke-width="0.15" text-anchor="middle" font-weight="normal" textLength="8.20" lengthAdjust="spacingAndGlyphs" >15</text>
<g><clipPath id="us706_262"><circle cx="710.90" cy="258.80" r="3.9"/></clipPath><g clip-path="url(#us706_262)"><rect x="706.90" y="254.80" width="8" height="8" fill="#f7f7f7"/><rect x="706.90" y="254.80" width="8" height="1.4" fill="#e8404a"/><rect x="706.90" y="257.20" width="8" height="1.3" fill="#e8404a"/><rect x="706.90" y="259.70" width="8" height="1.3" fill="#e8404a"/><rect x="706.90" y="261.80" width="8" height="1.3" fill="#e8404a"/><rect x="706.90" y="254.80" width="4.6" height="5" fill="#4aa0f2"/></g><circle cx="706.60" cy="262.90" r="4.9" fill="#161a25"/><clipPath id="uk706_262"><circle cx="706.60" cy="262.90" r="4.1"/></clipPath><g clip-path="url(#uk706_262)"><rect x="701.60" y="257.90" width="10" height="10" fill="#3b63c4"/><path d="M701.60 257.90L711.60 267.90M711.60 257.90L701.60 267.90" stroke="#f3e3e8" stroke-width="1.5"/><path d="M701.60 257.90L711.60 267.90M711.60 257.90L701.60 267.90" stroke="#ef5f68" stroke-width="0.5"/><path d="M706.60 257.90V267.90M701.60 262.90H711.60" stroke="#f6eaec" stroke-width="2.4"/><path d="M706.60 257.90V267.90M701.60 262.90H711.60" stroke="#ee4450" stroke-width="1.3"/></g></g>
<text x="717.50" y="265.30" font-size="10.2" fill="#cfd2d9" stroke="#cfd2d9" stroke-width="0.12" text-anchor="start" font-weight="normal" textLength="85.60" lengthAdjust="spacingAndGlyphs" >ポンド／米ドル・5</text>
<circle cx="814.20" cy="261.30" r="5.6" fill="#2c2f39"/>
<rect x="811.00" y="260.25" width="6.40" height="2.10" fill="#d2d0cb" rx="0.7"/>
<text x="702.60" y="277.60" font-size="8.7" fill="#e0414c" stroke="#e0414c" stroke-width="0.28" text-anchor="start" font-weight="normal" textLength="68.00" lengthAdjust="spacingAndGlyphs" >+0.00049 (+0.04%)</text>
<g opacity="1.0" fill="none" stroke="#6d2ff5" stroke-width="1.6" stroke-linecap="round"><circle cx="737.20" cy="289.30" r="4.4" stroke="#3b1d8f" stroke-width="3.4" opacity="0.42"/><path d="M733.50 288.60A3.75 3.75 0 0 1 740.30 287.20"/><path d="M740.90 290.00A3.75 3.75 0 0 1 734.10 291.40"/><path d="M741.10 286.00V288.20H739.00Z" fill="#6d2ff5" stroke-width="0.5"/><path d="M733.30 292.60V290.40H735.40Z" fill="#6d2ff5" stroke-width="0.5"/></g>
<rect x="702.60" y="282.40" width="18.6" height="13" rx="1.6" fill="#161a25" fill-opacity="0.55" stroke="#414349" stroke-width="0.9"/>
<path d="M709.30 287.60L711.90 290.20L714.50 287.60" fill="none" stroke="#e4e6ea" stroke-width="1.15"/>
</g></g>
<rect x="0.00" y="0.00" width="1024.00" height="1.00" fill="#2b2d31" />
<rect x="0.00" y="247.60" width="1024.00" height="2.20" fill="#2b2d31" />
<rect x="0.00" y="495.90" width="1024.00" height="1.20" fill="#2b2d31" />
<rect x="1022.40" y="0.00" width="1.60" height="497.00" fill="#23252b" />
<rect x="354.40" y="0.00" width="2.00" height="497.00" fill="#2b2d31" />
<rect x="695.40" y="0.00" width="2.00" height="497.00" fill="#2b2d31" />
<rect x="358.4" y="250.1" width="336.4" height="245.6" rx="2.4" fill="none" stroke="#9a9b9e" stroke-width="1.45"/>
</svg>
</body></html>
